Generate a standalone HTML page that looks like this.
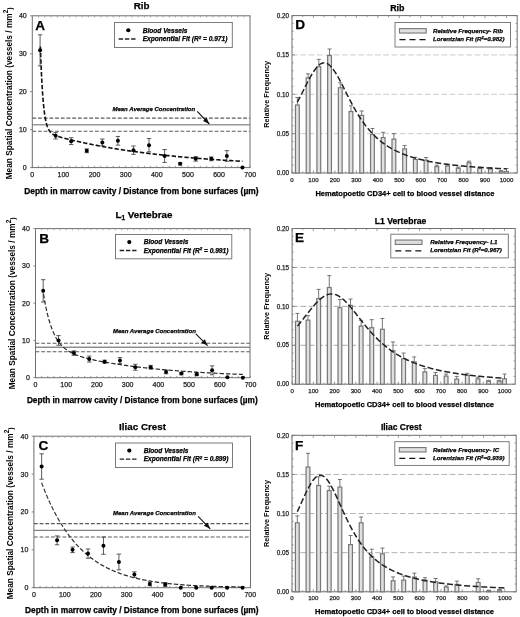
<!DOCTYPE html>
<html><head><meta charset="utf-8"><style>
html,body{margin:0;padding:0;background:#fff;}
body{width:520px;height:617px;overflow:hidden;}
svg{display:block;font-family:"Liberation Sans", sans-serif;filter:blur(0.35px);}
</style></head><body>
<svg width="520" height="617" viewBox="0 0 520 617">
<rect width="520" height="617" fill="#fff"/>
<line x1="32.3" y1="118.1" x2="250" y2="118.1" stroke="#5a5a5a" stroke-width="1.1" stroke-dasharray="3.8 1.9" />
<line x1="32.3" y1="124.8" x2="250" y2="124.8" stroke="#9a9a9a" stroke-width="1.6" />
<line x1="32.3" y1="131.3" x2="250" y2="131.3" stroke="#5a5a5a" stroke-width="1.1" stroke-dasharray="3.8 1.9" />
<rect x="32.3" y="15.8" width="217.7" height="151.8" fill="none" stroke="#6e6e6e" stroke-width="1.0"/>
<line x1="32.3" y1="167.6" x2="32.3" y2="165.8" stroke="#808080" stroke-width="0.8" />
<line x1="32.3" y1="15.8" x2="32.3" y2="17.6" stroke="#999" stroke-width="0.8" />
<line x1="38.53" y1="167.6" x2="38.53" y2="165.8" stroke="#808080" stroke-width="0.8" />
<line x1="38.53" y1="15.8" x2="38.53" y2="17.6" stroke="#999" stroke-width="0.8" />
<line x1="44.75" y1="167.6" x2="44.75" y2="165.8" stroke="#808080" stroke-width="0.8" />
<line x1="44.75" y1="15.8" x2="44.75" y2="17.6" stroke="#999" stroke-width="0.8" />
<line x1="50.98" y1="167.6" x2="50.98" y2="165.8" stroke="#808080" stroke-width="0.8" />
<line x1="50.98" y1="15.8" x2="50.98" y2="17.6" stroke="#999" stroke-width="0.8" />
<line x1="57.2" y1="167.6" x2="57.2" y2="165.8" stroke="#808080" stroke-width="0.8" />
<line x1="57.2" y1="15.8" x2="57.2" y2="17.6" stroke="#999" stroke-width="0.8" />
<line x1="63.43" y1="167.6" x2="63.43" y2="165.8" stroke="#808080" stroke-width="0.8" />
<line x1="63.43" y1="15.8" x2="63.43" y2="17.6" stroke="#999" stroke-width="0.8" />
<line x1="69.65" y1="167.6" x2="69.65" y2="165.8" stroke="#808080" stroke-width="0.8" />
<line x1="69.65" y1="15.8" x2="69.65" y2="17.6" stroke="#999" stroke-width="0.8" />
<line x1="75.88" y1="167.6" x2="75.88" y2="165.8" stroke="#808080" stroke-width="0.8" />
<line x1="75.88" y1="15.8" x2="75.88" y2="17.6" stroke="#999" stroke-width="0.8" />
<line x1="82.11" y1="167.6" x2="82.11" y2="165.8" stroke="#808080" stroke-width="0.8" />
<line x1="82.11" y1="15.8" x2="82.11" y2="17.6" stroke="#999" stroke-width="0.8" />
<line x1="88.33" y1="167.6" x2="88.33" y2="165.8" stroke="#808080" stroke-width="0.8" />
<line x1="88.33" y1="15.8" x2="88.33" y2="17.6" stroke="#999" stroke-width="0.8" />
<line x1="94.56" y1="167.6" x2="94.56" y2="165.8" stroke="#808080" stroke-width="0.8" />
<line x1="94.56" y1="15.8" x2="94.56" y2="17.6" stroke="#999" stroke-width="0.8" />
<line x1="100.78" y1="167.6" x2="100.78" y2="165.8" stroke="#808080" stroke-width="0.8" />
<line x1="100.78" y1="15.8" x2="100.78" y2="17.6" stroke="#999" stroke-width="0.8" />
<line x1="107.01" y1="167.6" x2="107.01" y2="165.8" stroke="#808080" stroke-width="0.8" />
<line x1="107.01" y1="15.8" x2="107.01" y2="17.6" stroke="#999" stroke-width="0.8" />
<line x1="113.23" y1="167.6" x2="113.23" y2="165.8" stroke="#808080" stroke-width="0.8" />
<line x1="113.23" y1="15.8" x2="113.23" y2="17.6" stroke="#999" stroke-width="0.8" />
<line x1="119.46" y1="167.6" x2="119.46" y2="165.8" stroke="#808080" stroke-width="0.8" />
<line x1="119.46" y1="15.8" x2="119.46" y2="17.6" stroke="#999" stroke-width="0.8" />
<line x1="125.69" y1="167.6" x2="125.69" y2="165.8" stroke="#808080" stroke-width="0.8" />
<line x1="125.69" y1="15.8" x2="125.69" y2="17.6" stroke="#999" stroke-width="0.8" />
<line x1="131.91" y1="167.6" x2="131.91" y2="165.8" stroke="#808080" stroke-width="0.8" />
<line x1="131.91" y1="15.8" x2="131.91" y2="17.6" stroke="#999" stroke-width="0.8" />
<line x1="138.14" y1="167.6" x2="138.14" y2="165.8" stroke="#808080" stroke-width="0.8" />
<line x1="138.14" y1="15.8" x2="138.14" y2="17.6" stroke="#999" stroke-width="0.8" />
<line x1="144.36" y1="167.6" x2="144.36" y2="165.8" stroke="#808080" stroke-width="0.8" />
<line x1="144.36" y1="15.8" x2="144.36" y2="17.6" stroke="#999" stroke-width="0.8" />
<line x1="150.59" y1="167.6" x2="150.59" y2="165.8" stroke="#808080" stroke-width="0.8" />
<line x1="150.59" y1="15.8" x2="150.59" y2="17.6" stroke="#999" stroke-width="0.8" />
<line x1="156.81" y1="167.6" x2="156.81" y2="165.8" stroke="#808080" stroke-width="0.8" />
<line x1="156.81" y1="15.8" x2="156.81" y2="17.6" stroke="#999" stroke-width="0.8" />
<line x1="163.04" y1="167.6" x2="163.04" y2="165.8" stroke="#808080" stroke-width="0.8" />
<line x1="163.04" y1="15.8" x2="163.04" y2="17.6" stroke="#999" stroke-width="0.8" />
<line x1="169.27" y1="167.6" x2="169.27" y2="165.8" stroke="#808080" stroke-width="0.8" />
<line x1="169.27" y1="15.8" x2="169.27" y2="17.6" stroke="#999" stroke-width="0.8" />
<line x1="175.49" y1="167.6" x2="175.49" y2="165.8" stroke="#808080" stroke-width="0.8" />
<line x1="175.49" y1="15.8" x2="175.49" y2="17.6" stroke="#999" stroke-width="0.8" />
<line x1="181.72" y1="167.6" x2="181.72" y2="165.8" stroke="#808080" stroke-width="0.8" />
<line x1="181.72" y1="15.8" x2="181.72" y2="17.6" stroke="#999" stroke-width="0.8" />
<line x1="187.94" y1="167.6" x2="187.94" y2="165.8" stroke="#808080" stroke-width="0.8" />
<line x1="187.94" y1="15.8" x2="187.94" y2="17.6" stroke="#999" stroke-width="0.8" />
<line x1="194.17" y1="167.6" x2="194.17" y2="165.8" stroke="#808080" stroke-width="0.8" />
<line x1="194.17" y1="15.8" x2="194.17" y2="17.6" stroke="#999" stroke-width="0.8" />
<line x1="200.39" y1="167.6" x2="200.39" y2="165.8" stroke="#808080" stroke-width="0.8" />
<line x1="200.39" y1="15.8" x2="200.39" y2="17.6" stroke="#999" stroke-width="0.8" />
<line x1="206.62" y1="167.6" x2="206.62" y2="165.8" stroke="#808080" stroke-width="0.8" />
<line x1="206.62" y1="15.8" x2="206.62" y2="17.6" stroke="#999" stroke-width="0.8" />
<line x1="212.85" y1="167.6" x2="212.85" y2="165.8" stroke="#808080" stroke-width="0.8" />
<line x1="212.85" y1="15.8" x2="212.85" y2="17.6" stroke="#999" stroke-width="0.8" />
<line x1="219.07" y1="167.6" x2="219.07" y2="165.8" stroke="#808080" stroke-width="0.8" />
<line x1="219.07" y1="15.8" x2="219.07" y2="17.6" stroke="#999" stroke-width="0.8" />
<line x1="225.3" y1="167.6" x2="225.3" y2="165.8" stroke="#808080" stroke-width="0.8" />
<line x1="225.3" y1="15.8" x2="225.3" y2="17.6" stroke="#999" stroke-width="0.8" />
<line x1="231.52" y1="167.6" x2="231.52" y2="165.8" stroke="#808080" stroke-width="0.8" />
<line x1="231.52" y1="15.8" x2="231.52" y2="17.6" stroke="#999" stroke-width="0.8" />
<line x1="237.75" y1="167.6" x2="237.75" y2="165.8" stroke="#808080" stroke-width="0.8" />
<line x1="237.75" y1="15.8" x2="237.75" y2="17.6" stroke="#999" stroke-width="0.8" />
<line x1="243.97" y1="167.6" x2="243.97" y2="165.8" stroke="#808080" stroke-width="0.8" />
<line x1="243.97" y1="15.8" x2="243.97" y2="17.6" stroke="#999" stroke-width="0.8" />
<line x1="250.2" y1="167.6" x2="250.2" y2="165.8" stroke="#808080" stroke-width="0.8" />
<line x1="250.2" y1="15.8" x2="250.2" y2="17.6" stroke="#999" stroke-width="0.8" />
<line x1="30.1" y1="167.6" x2="32.3" y2="167.6" stroke="#6e6e6e" stroke-width="0.8" />
<line x1="30.1" y1="129.65" x2="32.3" y2="129.65" stroke="#6e6e6e" stroke-width="0.8" />
<line x1="30.1" y1="91.7" x2="32.3" y2="91.7" stroke="#6e6e6e" stroke-width="0.8" />
<line x1="30.1" y1="53.75" x2="32.3" y2="53.75" stroke="#6e6e6e" stroke-width="0.8" />
<line x1="30.1" y1="15.8" x2="32.3" y2="15.8" stroke="#6e6e6e" stroke-width="0.8" />
<text x="26.7" y="170.1" font-size="7" font-weight="normal" font-style="normal" text-anchor="end" fill="#222" stroke="#222" stroke-width="0.25" >0</text>
<text x="26.7" y="132.15" font-size="7" font-weight="normal" font-style="normal" text-anchor="end" fill="#222" stroke="#222" stroke-width="0.25" >10</text>
<text x="26.7" y="94.2" font-size="7" font-weight="normal" font-style="normal" text-anchor="end" fill="#222" stroke="#222" stroke-width="0.25" >20</text>
<text x="26.7" y="56.25" font-size="7" font-weight="normal" font-style="normal" text-anchor="end" fill="#222" stroke="#222" stroke-width="0.25" >30</text>
<text x="26.7" y="18.3" font-size="7" font-weight="normal" font-style="normal" text-anchor="end" fill="#222" stroke="#222" stroke-width="0.25" >40</text>
<text x="32.3" y="177" font-size="7" font-weight="normal" font-style="normal" text-anchor="middle" fill="#222" stroke="#222" stroke-width="0.25" >0</text>
<text x="63.43" y="177" font-size="7" font-weight="normal" font-style="normal" text-anchor="middle" fill="#222" stroke="#222" stroke-width="0.25" >100</text>
<text x="94.56" y="177" font-size="7" font-weight="normal" font-style="normal" text-anchor="middle" fill="#222" stroke="#222" stroke-width="0.25" >200</text>
<text x="125.69" y="177" font-size="7" font-weight="normal" font-style="normal" text-anchor="middle" fill="#222" stroke="#222" stroke-width="0.25" >300</text>
<text x="156.81" y="177" font-size="7" font-weight="normal" font-style="normal" text-anchor="middle" fill="#222" stroke="#222" stroke-width="0.25" >400</text>
<text x="187.94" y="177" font-size="7" font-weight="normal" font-style="normal" text-anchor="middle" fill="#222" stroke="#222" stroke-width="0.25" >500</text>
<text x="219.07" y="177" font-size="7" font-weight="normal" font-style="normal" text-anchor="middle" fill="#222" stroke="#222" stroke-width="0.25" >600</text>
<text x="250.2" y="177" font-size="7" font-weight="normal" font-style="normal" text-anchor="middle" fill="#222" stroke="#222" stroke-width="0.25" >700</text>
<text x="141.6" y="8.7" font-size="9.8" font-weight="bold" font-style="normal" text-anchor="middle" fill="#000" stroke="#000" stroke-width="0.25" >Rib</text>
<text x="35.3" y="29.5" font-size="13.6" font-weight="bold" font-style="normal" text-anchor="start" fill="#000" stroke="#000" stroke-width="0.25" >A</text>
<text x="24.2" y="193.8" font-size="8.4" font-weight="bold" font-style="normal" text-anchor="start" fill="#000" stroke="#000" stroke-width="0.25" >Depth in marrow cavity / Distance from bone surfaces (µm)</text>
<text transform="translate(11.9,179.35) rotate(-90)" font-size="8.3" font-weight="bold" text-anchor="start">Mean Spatial Concentration (vessels / mm<tspan font-size="6.5" dy="-4.3">2</tspan><tspan font-size="7" dy="4.3">)</tspan></text>
<rect x="114.5" y="22.5" width="117.8" height="25" fill="#fff" stroke="#6e6e6e" stroke-width="0.9"/>
<circle cx="128.3" cy="30.25" r="2.1" fill="#000"/>
<line x1="118.7" y1="39" x2="135.5" y2="39" stroke="#222" stroke-width="1.4" stroke-dasharray="4.4 1.8" />
<text x="142.7" y="32.55" font-size="6.6" font-weight="bold" font-style="italic" text-anchor="start" fill="#000" stroke="#000" stroke-width="0.25" >Blood Vessels</text>
<text x="142.7" y="41.3" font-size="6.6" font-weight="bold" font-style="italic" text-anchor="start" fill="#000" stroke="#000" stroke-width="0.25" >Exponential Fit (R<tspan font-size="4.4" dy="-2.6">2</tspan><tspan dy="2.6"> = 0.971)</tspan></text>
<text x="112.4" y="110.5" font-size="6.0" font-weight="bold" font-style="italic" text-anchor="start" fill="#000" stroke="#000" stroke-width="0.25" >Mean Average Concentration</text>
<line x1="197.2" y1="111.3" x2="209.3" y2="124" stroke="#111" stroke-width="1.1" />
<polygon points="209.3,124 203.01,121.02 206.63,117.57" fill="#111"/>
<polyline points="40.39,46.5 40.55,51.14 40.7,55.53 40.86,59.69 41.02,63.63 41.17,67.36 41.33,70.88 41.48,74.22 41.64,77.39 41.79,80.38 41.95,83.21 42.11,85.9 42.26,88.44 42.42,90.84 42.57,93.12 42.73,95.28 42.88,97.32 43.04,99.26 43.19,101.09 43.35,102.83 43.51,104.48 43.66,106.04 43.82,107.51 43.97,108.92 44.13,110.24 44.28,111.5 44.44,112.69 44.6,113.82 44.75,114.89 44.91,115.91 45.06,116.87 45.22,117.79 45.37,118.66 45.53,119.48 45.69,120.26 45.84,121 46,121.7 46.15,122.37 46.31,123.01 46.46,123.61 46.62,124.18 46.77,124.73 46.93,125.24 47.09,125.73 47.24,126.2 47.4,126.64 47.55,127.07 47.71,127.47 47.86,127.85 48.02,128.22 48.18,128.56 48.33,128.9 48.49,129.21 48.64,129.51 48.8,129.8 48.95,130.07 49.11,130.33 49.27,130.58 49.42,130.82 49.58,131.05 49.73,131.27 49.89,131.48 50.04,131.68 50.2,131.87 50.35,132.05 50.51,132.23 50.67,132.4 50.82,132.56 50.98,132.71 51.13,132.86 51.29,133.01 51.44,133.14 51.6,133.28 51.76,133.4 51.91,133.53 52.07,133.65 52.22,133.76 52.38,133.87 52.53,133.98 52.69,134.09 52.84,134.19 53,134.28 53.16,134.38 53.31,134.47 53.47,134.56 53.62,134.64 53.78,134.73 53.93,134.81 54.09,134.89 54.25,134.97 54.4,135.04 54.56,135.12 54.71,135.19 54.87,135.26 55.02,135.33 55.18,135.4 55.34,135.46 55.49,135.53 55.65,135.59 55.8,135.65 55.96,135.72 56.11,135.78 56.27,135.83 56.42,135.89 56.58,135.95 56.74,136.01 56.89,136.06 57.05,136.12 57.2,136.17 57.36,136.22 57.51,136.28 57.67,136.33 57.83,136.38 57.98,136.43 58.14,136.48 58.29,136.53 58.45,136.58 58.6,136.63 58.76,136.68 58.91,136.73 59.07,136.77 59.23,136.82 59.38,136.87 59.54,136.91 59.69,136.96 59.85,137 60,137.05 60.16,137.1 60.32,137.14 60.47,137.18 60.63,137.23 60.78,137.27 60.94,137.32 61.09,137.36 61.25,137.4 61.41,137.45 61.56,137.49 61.72,137.53 61.87,137.58 62.03,137.62 62.18,137.66 62.34,137.7 62.49,137.74 62.65,137.79 62.81,137.83 62.96,137.87 63.12,137.91 63.27,137.95 63.43,137.99 63.58,138.03 63.74,138.07 63.9,138.12 64.05,138.16 64.21,138.2 64.36,138.24 64.52,138.28 64.67,138.32 64.83,138.36 64.98,138.4 65.14,138.44 65.3,138.48 65.45,138.52 65.61,138.56 65.76,138.6 65.92,138.64 66.07,138.67 66.23,138.71 66.39,138.75 66.54,138.79 66.7,138.83 66.85,138.87 67.01,138.91 67.16,138.95 67.32,138.99 67.48,139.03 67.63,139.06 67.79,139.1 67.94,139.14 68.1,139.18 68.25,139.22 68.41,139.26 68.56,139.3 68.72,139.33 68.88,139.37 69.03,139.41 69.19,139.45 69.34,139.49 69.5,139.52 69.65,139.56 70.59,139.79 71.52,140.01 72.46,140.23 73.39,140.45 74.32,140.67 75.26,140.89 76.19,141.1 77.13,141.32 78.06,141.53 78.99,141.74 79.93,141.94 80.86,142.15 81.79,142.35 82.73,142.56 83.66,142.76 84.6,142.96 85.53,143.16 86.46,143.35 87.4,143.55 88.33,143.74 89.27,143.93 90.2,144.12 91.13,144.31 92.07,144.5 93,144.68 93.93,144.87 94.87,145.05 95.8,145.23 96.74,145.41 97.67,145.59 98.6,145.77 99.54,145.94 100.47,146.11 101.41,146.29 102.34,146.46 103.27,146.63 104.21,146.8 105.14,146.96 106.07,147.13 107.01,147.29 107.94,147.46 108.88,147.62 109.81,147.78 110.74,147.94 111.68,148.1 112.61,148.25 113.55,148.41 114.48,148.56 115.41,148.72 116.35,148.87 117.28,149.02 118.21,149.17 119.15,149.32 120.08,149.46 121.02,149.61 121.95,149.75 122.88,149.9 123.82,150.04 124.75,150.18 125.69,150.32 126.62,150.46 127.55,150.6 128.49,150.73 129.42,150.87 130.36,151 131.29,151.14 132.22,151.27 133.16,151.4 134.09,151.53 135.02,151.66 135.96,151.79 136.89,151.91 137.83,152.04 138.76,152.16 139.69,152.29 140.63,152.41 141.56,152.53 142.5,152.65 143.43,152.77 144.36,152.89 145.3,153.01 146.23,153.13 147.16,153.24 148.1,153.36 149.03,153.47 149.97,153.59 150.9,153.7 151.83,153.81 152.77,153.92 153.7,154.03 154.64,154.14 155.57,154.25 156.5,154.36 157.44,154.46 158.37,154.57 159.3,154.67 160.24,154.78 161.17,154.88 162.11,154.98 163.04,155.08 163.97,155.18 164.91,155.28 165.84,155.38 166.78,155.48 167.71,155.58 168.64,155.67 169.58,155.77 170.51,155.87 171.44,155.96 172.38,156.05 173.31,156.15 174.25,156.24 175.18,156.33 176.11,156.42 177.05,156.51 177.98,156.6 178.92,156.69 179.85,156.77 180.78,156.86 181.72,156.95 182.65,157.03 183.58,157.12 184.52,157.2 185.45,157.29 186.39,157.37 187.32,157.45 188.25,157.53 189.19,157.61 190.12,157.69 191.06,157.77 191.99,157.85 192.92,157.93 193.86,158.01 194.79,158.09 195.72,158.16 196.66,158.24 197.59,158.31 198.53,158.39 199.46,158.46 200.39,158.53 201.33,158.61 202.26,158.68 203.2,158.75 204.13,158.82 205.06,158.89 206,158.96 206.93,159.03 207.87,159.1 208.8,159.17 209.73,159.24 210.67,159.3 211.6,159.37 212.53,159.44 213.47,159.5 214.4,159.57 215.34,159.63 216.27,159.7 217.2,159.76 218.14,159.82 219.07,159.88 220.01,159.95 220.94,160.01 221.87,160.07 222.81,160.13 223.74,160.19 224.67,160.25 225.61,160.31 226.54,160.37 227.48,160.43 228.41,160.48 229.34,160.54 230.28,160.6 231.21,160.65 232.15,160.71 233.08,160.76 234.01,160.82 234.95,160.87 235.88,160.93 236.81,160.98 237.75,161.03 238.68,161.09 239.62,161.14 240.55,161.19 241.48,161.24 242.42,161.29" fill="none" stroke="#111" stroke-width="1.6" stroke-dasharray="4.4 2.0"/>
<line x1="40.08" y1="34.78" x2="40.08" y2="65.89" stroke="#333" stroke-width="0.8" />
<line x1="37.88" y1="34.78" x2="42.28" y2="34.78" stroke="#333" stroke-width="0.8" />
<line x1="37.88" y1="65.89" x2="42.28" y2="65.89" stroke="#333" stroke-width="0.8" />
<circle cx="40.08" cy="50.33" r="2.0" fill="#000"/>
<line x1="55.65" y1="132.57" x2="55.65" y2="139.02" stroke="#333" stroke-width="0.8" />
<line x1="53.45" y1="132.57" x2="57.85" y2="132.57" stroke="#333" stroke-width="0.8" />
<line x1="53.45" y1="139.02" x2="57.85" y2="139.02" stroke="#333" stroke-width="0.8" />
<circle cx="55.65" cy="135.8" r="2.0" fill="#000"/>
<line x1="71.21" y1="137.73" x2="71.21" y2="144.56" stroke="#333" stroke-width="0.8" />
<line x1="69.01" y1="137.73" x2="73.41" y2="137.73" stroke="#333" stroke-width="0.8" />
<line x1="69.01" y1="144.56" x2="73.41" y2="144.56" stroke="#333" stroke-width="0.8" />
<circle cx="71.21" cy="141.15" r="2.0" fill="#000"/>
<line x1="86.77" y1="148.89" x2="86.77" y2="152.69" stroke="#333" stroke-width="0.8" />
<line x1="84.57" y1="148.89" x2="88.97" y2="148.89" stroke="#333" stroke-width="0.8" />
<line x1="84.57" y1="152.69" x2="88.97" y2="152.69" stroke="#333" stroke-width="0.8" />
<circle cx="86.77" cy="150.79" r="2.0" fill="#000"/>
<line x1="102.34" y1="138.99" x2="102.34" y2="145.82" stroke="#333" stroke-width="0.8" />
<line x1="100.14" y1="138.99" x2="104.54" y2="138.99" stroke="#333" stroke-width="0.8" />
<line x1="100.14" y1="145.82" x2="104.54" y2="145.82" stroke="#333" stroke-width="0.8" />
<circle cx="102.34" cy="142.4" r="2.0" fill="#000"/>
<line x1="117.9" y1="136.44" x2="117.9" y2="145.17" stroke="#333" stroke-width="0.8" />
<line x1="115.7" y1="136.44" x2="120.1" y2="136.44" stroke="#333" stroke-width="0.8" />
<line x1="115.7" y1="145.17" x2="120.1" y2="145.17" stroke="#333" stroke-width="0.8" />
<circle cx="117.9" cy="140.81" r="2.0" fill="#000"/>
<line x1="133.47" y1="145.97" x2="133.47" y2="154.32" stroke="#333" stroke-width="0.8" />
<line x1="131.27" y1="145.97" x2="135.67" y2="145.97" stroke="#333" stroke-width="0.8" />
<line x1="131.27" y1="154.32" x2="135.67" y2="154.32" stroke="#333" stroke-width="0.8" />
<circle cx="133.47" cy="150.14" r="2.0" fill="#000"/>
<line x1="149.03" y1="138.57" x2="149.03" y2="151.85" stroke="#333" stroke-width="0.8" />
<line x1="146.83" y1="138.57" x2="151.23" y2="138.57" stroke="#333" stroke-width="0.8" />
<line x1="146.83" y1="151.85" x2="151.23" y2="151.85" stroke="#333" stroke-width="0.8" />
<circle cx="149.03" cy="145.21" r="2.0" fill="#000"/>
<line x1="164.6" y1="149.54" x2="164.6" y2="162.44" stroke="#333" stroke-width="0.8" />
<line x1="162.4" y1="149.54" x2="166.8" y2="149.54" stroke="#333" stroke-width="0.8" />
<line x1="162.4" y1="162.44" x2="166.8" y2="162.44" stroke="#333" stroke-width="0.8" />
<circle cx="164.6" cy="155.99" r="2.0" fill="#000"/>
<line x1="180.16" y1="162.67" x2="180.16" y2="164.94" stroke="#333" stroke-width="0.8" />
<line x1="177.96" y1="162.67" x2="182.36" y2="162.67" stroke="#333" stroke-width="0.8" />
<line x1="177.96" y1="164.94" x2="182.36" y2="164.94" stroke="#333" stroke-width="0.8" />
<circle cx="180.16" cy="163.81" r="2.0" fill="#000"/>
<line x1="195.72" y1="156.59" x2="195.72" y2="161.15" stroke="#333" stroke-width="0.8" />
<line x1="193.52" y1="156.59" x2="197.92" y2="156.59" stroke="#333" stroke-width="0.8" />
<line x1="193.52" y1="161.15" x2="197.92" y2="161.15" stroke="#333" stroke-width="0.8" />
<circle cx="195.72" cy="158.87" r="2.0" fill="#000"/>
<line x1="211.29" y1="156.97" x2="211.29" y2="160.77" stroke="#333" stroke-width="0.8" />
<line x1="209.09" y1="156.97" x2="213.49" y2="156.97" stroke="#333" stroke-width="0.8" />
<line x1="209.09" y1="160.77" x2="213.49" y2="160.77" stroke="#333" stroke-width="0.8" />
<circle cx="211.29" cy="158.87" r="2.0" fill="#000"/>
<line x1="226.85" y1="150.67" x2="226.85" y2="161.3" stroke="#333" stroke-width="0.8" />
<line x1="224.65" y1="150.67" x2="229.05" y2="150.67" stroke="#333" stroke-width="0.8" />
<line x1="224.65" y1="161.3" x2="229.05" y2="161.3" stroke="#333" stroke-width="0.8" />
<circle cx="226.85" cy="155.99" r="2.0" fill="#000"/>
<circle cx="242.42" cy="167.6" r="2.0" fill="#000"/>
<line x1="35.5" y1="343.2" x2="250" y2="343.2" stroke="#5a5a5a" stroke-width="1.1" stroke-dasharray="3.8 1.9" />
<line x1="35.5" y1="347.2" x2="250" y2="347.2" stroke="#585858" stroke-width="1.0" />
<line x1="35.5" y1="351.7" x2="250" y2="351.7" stroke="#5a5a5a" stroke-width="1.1" stroke-dasharray="3.8 1.9" />
<rect x="35.5" y="228.6" width="214.5" height="149.1" fill="none" stroke="#6e6e6e" stroke-width="1.0"/>
<line x1="35.5" y1="377.7" x2="35.5" y2="375.9" stroke="#808080" stroke-width="0.8" />
<line x1="35.5" y1="228.6" x2="35.5" y2="230.4" stroke="#999" stroke-width="0.8" />
<line x1="41.64" y1="377.7" x2="41.64" y2="375.9" stroke="#808080" stroke-width="0.8" />
<line x1="41.64" y1="228.6" x2="41.64" y2="230.4" stroke="#999" stroke-width="0.8" />
<line x1="47.79" y1="377.7" x2="47.79" y2="375.9" stroke="#808080" stroke-width="0.8" />
<line x1="47.79" y1="228.6" x2="47.79" y2="230.4" stroke="#999" stroke-width="0.8" />
<line x1="53.93" y1="377.7" x2="53.93" y2="375.9" stroke="#808080" stroke-width="0.8" />
<line x1="53.93" y1="228.6" x2="53.93" y2="230.4" stroke="#999" stroke-width="0.8" />
<line x1="60.07" y1="377.7" x2="60.07" y2="375.9" stroke="#808080" stroke-width="0.8" />
<line x1="60.07" y1="228.6" x2="60.07" y2="230.4" stroke="#999" stroke-width="0.8" />
<line x1="66.21" y1="377.7" x2="66.21" y2="375.9" stroke="#808080" stroke-width="0.8" />
<line x1="66.21" y1="228.6" x2="66.21" y2="230.4" stroke="#999" stroke-width="0.8" />
<line x1="72.36" y1="377.7" x2="72.36" y2="375.9" stroke="#808080" stroke-width="0.8" />
<line x1="72.36" y1="228.6" x2="72.36" y2="230.4" stroke="#999" stroke-width="0.8" />
<line x1="78.5" y1="377.7" x2="78.5" y2="375.9" stroke="#808080" stroke-width="0.8" />
<line x1="78.5" y1="228.6" x2="78.5" y2="230.4" stroke="#999" stroke-width="0.8" />
<line x1="84.64" y1="377.7" x2="84.64" y2="375.9" stroke="#808080" stroke-width="0.8" />
<line x1="84.64" y1="228.6" x2="84.64" y2="230.4" stroke="#999" stroke-width="0.8" />
<line x1="90.79" y1="377.7" x2="90.79" y2="375.9" stroke="#808080" stroke-width="0.8" />
<line x1="90.79" y1="228.6" x2="90.79" y2="230.4" stroke="#999" stroke-width="0.8" />
<line x1="96.93" y1="377.7" x2="96.93" y2="375.9" stroke="#808080" stroke-width="0.8" />
<line x1="96.93" y1="228.6" x2="96.93" y2="230.4" stroke="#999" stroke-width="0.8" />
<line x1="103.07" y1="377.7" x2="103.07" y2="375.9" stroke="#808080" stroke-width="0.8" />
<line x1="103.07" y1="228.6" x2="103.07" y2="230.4" stroke="#999" stroke-width="0.8" />
<line x1="109.21" y1="377.7" x2="109.21" y2="375.9" stroke="#808080" stroke-width="0.8" />
<line x1="109.21" y1="228.6" x2="109.21" y2="230.4" stroke="#999" stroke-width="0.8" />
<line x1="115.36" y1="377.7" x2="115.36" y2="375.9" stroke="#808080" stroke-width="0.8" />
<line x1="115.36" y1="228.6" x2="115.36" y2="230.4" stroke="#999" stroke-width="0.8" />
<line x1="121.5" y1="377.7" x2="121.5" y2="375.9" stroke="#808080" stroke-width="0.8" />
<line x1="121.5" y1="228.6" x2="121.5" y2="230.4" stroke="#999" stroke-width="0.8" />
<line x1="127.64" y1="377.7" x2="127.64" y2="375.9" stroke="#808080" stroke-width="0.8" />
<line x1="127.64" y1="228.6" x2="127.64" y2="230.4" stroke="#999" stroke-width="0.8" />
<line x1="133.79" y1="377.7" x2="133.79" y2="375.9" stroke="#808080" stroke-width="0.8" />
<line x1="133.79" y1="228.6" x2="133.79" y2="230.4" stroke="#999" stroke-width="0.8" />
<line x1="139.93" y1="377.7" x2="139.93" y2="375.9" stroke="#808080" stroke-width="0.8" />
<line x1="139.93" y1="228.6" x2="139.93" y2="230.4" stroke="#999" stroke-width="0.8" />
<line x1="146.07" y1="377.7" x2="146.07" y2="375.9" stroke="#808080" stroke-width="0.8" />
<line x1="146.07" y1="228.6" x2="146.07" y2="230.4" stroke="#999" stroke-width="0.8" />
<line x1="152.21" y1="377.7" x2="152.21" y2="375.9" stroke="#808080" stroke-width="0.8" />
<line x1="152.21" y1="228.6" x2="152.21" y2="230.4" stroke="#999" stroke-width="0.8" />
<line x1="158.36" y1="377.7" x2="158.36" y2="375.9" stroke="#808080" stroke-width="0.8" />
<line x1="158.36" y1="228.6" x2="158.36" y2="230.4" stroke="#999" stroke-width="0.8" />
<line x1="164.5" y1="377.7" x2="164.5" y2="375.9" stroke="#808080" stroke-width="0.8" />
<line x1="164.5" y1="228.6" x2="164.5" y2="230.4" stroke="#999" stroke-width="0.8" />
<line x1="170.64" y1="377.7" x2="170.64" y2="375.9" stroke="#808080" stroke-width="0.8" />
<line x1="170.64" y1="228.6" x2="170.64" y2="230.4" stroke="#999" stroke-width="0.8" />
<line x1="176.79" y1="377.7" x2="176.79" y2="375.9" stroke="#808080" stroke-width="0.8" />
<line x1="176.79" y1="228.6" x2="176.79" y2="230.4" stroke="#999" stroke-width="0.8" />
<line x1="182.93" y1="377.7" x2="182.93" y2="375.9" stroke="#808080" stroke-width="0.8" />
<line x1="182.93" y1="228.6" x2="182.93" y2="230.4" stroke="#999" stroke-width="0.8" />
<line x1="189.07" y1="377.7" x2="189.07" y2="375.9" stroke="#808080" stroke-width="0.8" />
<line x1="189.07" y1="228.6" x2="189.07" y2="230.4" stroke="#999" stroke-width="0.8" />
<line x1="195.21" y1="377.7" x2="195.21" y2="375.9" stroke="#808080" stroke-width="0.8" />
<line x1="195.21" y1="228.6" x2="195.21" y2="230.4" stroke="#999" stroke-width="0.8" />
<line x1="201.36" y1="377.7" x2="201.36" y2="375.9" stroke="#808080" stroke-width="0.8" />
<line x1="201.36" y1="228.6" x2="201.36" y2="230.4" stroke="#999" stroke-width="0.8" />
<line x1="207.5" y1="377.7" x2="207.5" y2="375.9" stroke="#808080" stroke-width="0.8" />
<line x1="207.5" y1="228.6" x2="207.5" y2="230.4" stroke="#999" stroke-width="0.8" />
<line x1="213.64" y1="377.7" x2="213.64" y2="375.9" stroke="#808080" stroke-width="0.8" />
<line x1="213.64" y1="228.6" x2="213.64" y2="230.4" stroke="#999" stroke-width="0.8" />
<line x1="219.79" y1="377.7" x2="219.79" y2="375.9" stroke="#808080" stroke-width="0.8" />
<line x1="219.79" y1="228.6" x2="219.79" y2="230.4" stroke="#999" stroke-width="0.8" />
<line x1="225.93" y1="377.7" x2="225.93" y2="375.9" stroke="#808080" stroke-width="0.8" />
<line x1="225.93" y1="228.6" x2="225.93" y2="230.4" stroke="#999" stroke-width="0.8" />
<line x1="232.07" y1="377.7" x2="232.07" y2="375.9" stroke="#808080" stroke-width="0.8" />
<line x1="232.07" y1="228.6" x2="232.07" y2="230.4" stroke="#999" stroke-width="0.8" />
<line x1="238.21" y1="377.7" x2="238.21" y2="375.9" stroke="#808080" stroke-width="0.8" />
<line x1="238.21" y1="228.6" x2="238.21" y2="230.4" stroke="#999" stroke-width="0.8" />
<line x1="244.36" y1="377.7" x2="244.36" y2="375.9" stroke="#808080" stroke-width="0.8" />
<line x1="244.36" y1="228.6" x2="244.36" y2="230.4" stroke="#999" stroke-width="0.8" />
<line x1="250.5" y1="377.7" x2="250.5" y2="375.9" stroke="#808080" stroke-width="0.8" />
<line x1="250.5" y1="228.6" x2="250.5" y2="230.4" stroke="#999" stroke-width="0.8" />
<line x1="33.3" y1="377.7" x2="35.5" y2="377.7" stroke="#6e6e6e" stroke-width="0.8" />
<line x1="33.3" y1="340.43" x2="35.5" y2="340.43" stroke="#6e6e6e" stroke-width="0.8" />
<line x1="33.3" y1="303.15" x2="35.5" y2="303.15" stroke="#6e6e6e" stroke-width="0.8" />
<line x1="33.3" y1="265.88" x2="35.5" y2="265.88" stroke="#6e6e6e" stroke-width="0.8" />
<line x1="33.3" y1="228.6" x2="35.5" y2="228.6" stroke="#6e6e6e" stroke-width="0.8" />
<text x="29.9" y="380.2" font-size="7" font-weight="normal" font-style="normal" text-anchor="end" fill="#222" stroke="#222" stroke-width="0.25" >0</text>
<text x="29.9" y="342.93" font-size="7" font-weight="normal" font-style="normal" text-anchor="end" fill="#222" stroke="#222" stroke-width="0.25" >10</text>
<text x="29.9" y="305.65" font-size="7" font-weight="normal" font-style="normal" text-anchor="end" fill="#222" stroke="#222" stroke-width="0.25" >20</text>
<text x="29.9" y="268.38" font-size="7" font-weight="normal" font-style="normal" text-anchor="end" fill="#222" stroke="#222" stroke-width="0.25" >30</text>
<text x="29.9" y="231.1" font-size="7" font-weight="normal" font-style="normal" text-anchor="end" fill="#222" stroke="#222" stroke-width="0.25" >40</text>
<text x="35.5" y="387.3" font-size="7" font-weight="normal" font-style="normal" text-anchor="middle" fill="#222" stroke="#222" stroke-width="0.25" >0</text>
<text x="66.21" y="387.3" font-size="7" font-weight="normal" font-style="normal" text-anchor="middle" fill="#222" stroke="#222" stroke-width="0.25" >100</text>
<text x="96.93" y="387.3" font-size="7" font-weight="normal" font-style="normal" text-anchor="middle" fill="#222" stroke="#222" stroke-width="0.25" >200</text>
<text x="127.64" y="387.3" font-size="7" font-weight="normal" font-style="normal" text-anchor="middle" fill="#222" stroke="#222" stroke-width="0.25" >300</text>
<text x="158.36" y="387.3" font-size="7" font-weight="normal" font-style="normal" text-anchor="middle" fill="#222" stroke="#222" stroke-width="0.25" >400</text>
<text x="189.07" y="387.3" font-size="7" font-weight="normal" font-style="normal" text-anchor="middle" fill="#222" stroke="#222" stroke-width="0.25" >500</text>
<text x="219.79" y="387.3" font-size="7" font-weight="normal" font-style="normal" text-anchor="middle" fill="#222" stroke="#222" stroke-width="0.25" >600</text>
<text x="250.5" y="387.3" font-size="7" font-weight="normal" font-style="normal" text-anchor="middle" fill="#222" stroke="#222" stroke-width="0.25" >700</text>
<text x="115.4" y="218.3" font-size="9.8" font-weight="bold" font-style="normal" text-anchor="start" fill="#000" stroke="#000" stroke-width="0.25" >L<tspan font-size="6.5" dy="2">1</tspan><tspan dy="-2"> Vertebrae</tspan></text>
<text x="39.2" y="242.5" font-size="13.6" font-weight="bold" font-style="normal" text-anchor="start" fill="#000" stroke="#000" stroke-width="0.25" >B</text>
<text x="26.9" y="402.7" font-size="8.26" font-weight="bold" font-style="normal" text-anchor="start" fill="#000" stroke="#000" stroke-width="0.25" >Depth in marrow cavity / Distance from bone surfaces (µm)</text>
<text transform="translate(14.9,389.35) rotate(-90)" font-size="8.3" font-weight="bold" text-anchor="start">Mean Spatial Concentration (vessels / mm<tspan font-size="6.5" dy="-4.3">2</tspan><tspan font-size="7" dy="4.3">)</tspan></text>
<rect x="115.5" y="234.5" width="116.3" height="24.3" fill="#fff" stroke="#6e6e6e" stroke-width="0.9"/>
<circle cx="129.3" cy="242.03" r="2.1" fill="#000"/>
<line x1="119.7" y1="250.54" x2="136.5" y2="250.54" stroke="#222" stroke-width="1.4" stroke-dasharray="4.4 1.8" />
<text x="143.7" y="244.33" font-size="6.6" font-weight="bold" font-style="italic" text-anchor="start" fill="#000" stroke="#000" stroke-width="0.25" >Blood Vessels</text>
<text x="143.7" y="252.84" font-size="6.6" font-weight="bold" font-style="italic" text-anchor="start" fill="#000" stroke="#000" stroke-width="0.25" >Exponential Fit (R<tspan font-size="4.4" dy="-2.6">2</tspan><tspan dy="2.6"> = 0.991)</tspan></text>
<text x="113" y="333" font-size="6.0" font-weight="bold" font-style="italic" text-anchor="start" fill="#000" stroke="#000" stroke-width="0.25" >Mean Average Concentration</text>
<line x1="195.8" y1="333.8" x2="207.6" y2="345.6" stroke="#111" stroke-width="1.1" />
<polygon points="207.6,345.6 201.24,342.77 204.77,339.24" fill="#111"/>
<polyline points="43.49,294.05 43.64,294.99 43.79,295.91 43.95,296.82 44.1,297.71 44.25,298.59 44.41,299.46 44.56,300.31 44.71,301.15 44.87,301.97 45.02,302.79 45.17,303.59 45.33,304.37 45.48,305.15 45.64,305.91 45.79,306.66 45.94,307.4 46.1,308.12 46.25,308.84 46.4,309.54 46.56,310.24 46.71,310.92 46.86,311.59 47.02,312.25 47.17,312.9 47.33,313.54 47.48,314.17 47.63,314.79 47.79,315.41 47.94,316.01 48.09,316.6 48.25,317.18 48.4,317.76 48.55,318.32 48.71,318.88 48.86,319.43 49.01,319.97 49.17,320.5 49.32,321.02 49.48,321.54 49.63,322.04 49.78,322.54 49.94,323.04 50.09,323.52 50.24,324 50.4,324.47 50.55,324.93 50.7,325.39 50.86,325.84 51.01,326.28 51.16,326.71 51.32,327.14 51.47,327.56 51.62,327.98 51.78,328.39 51.93,328.79 52.09,329.19 52.24,329.58 52.39,329.97 52.55,330.35 52.7,330.72 52.85,331.09 53.01,331.46 53.16,331.81 53.31,332.17 53.47,332.51 53.62,332.86 53.77,333.19 53.93,333.53 54.08,333.86 54.24,334.18 54.39,334.5 54.54,334.81 54.7,335.12 54.85,335.42 55,335.72 55.16,336.02 55.31,336.31 55.46,336.6 55.62,336.88 55.77,337.16 55.92,337.44 56.08,337.71 56.23,337.98 56.39,338.24 56.54,338.5 56.69,338.76 56.85,339.01 57,339.26 57.15,339.5 57.31,339.75 57.46,339.98 57.61,340.22 57.77,340.45 57.92,340.68 58.08,340.91 58.23,341.13 58.38,341.35 58.54,341.57 58.69,341.78 58.84,341.99 59,342.2 59.15,342.4 59.3,342.61 59.46,342.81 59.61,343 59.76,343.2 59.92,343.39 60.07,343.58 60.23,343.77 60.38,343.95 60.53,344.13 60.69,344.31 60.84,344.49 60.99,344.66 61.15,344.84 61.3,345.01 61.45,345.18 61.61,345.34 61.76,345.51 61.91,345.67 62.07,345.83 62.22,345.98 62.38,346.14 62.53,346.29 62.68,346.45 62.84,346.6 62.99,346.74 63.14,346.89 63.3,347.03 63.45,347.18 63.6,347.32 63.76,347.46 63.91,347.59 64.06,347.73 64.22,347.86 64.37,348 64.53,348.13 64.68,348.26 64.83,348.38 64.99,348.51 65.14,348.64 65.29,348.76 65.45,348.88 65.6,349 65.75,349.12 65.91,349.24 66.06,349.36 66.21,349.47 66.37,349.58 66.52,349.7 66.67,349.81 66.83,349.92 66.98,350.03 67.14,350.13 67.29,350.24 67.44,350.35 67.6,350.45 67.75,350.55 67.9,350.65 68.06,350.75 68.21,350.85 68.36,350.95 68.52,351.05 68.67,351.15 68.83,351.24 68.98,351.34 69.13,351.43 69.29,351.52 69.44,351.61 69.59,351.7 69.75,351.79 69.9,351.88 70.05,351.97 70.21,352.06 70.36,352.14 70.51,352.23 70.67,352.31 70.82,352.4 70.97,352.48 71.13,352.56 71.28,352.64 71.44,352.72 71.59,352.8 71.74,352.88 71.9,352.96 72.05,353.04 72.2,353.12 72.36,353.19 73.28,353.63 74.2,354.05 75.12,354.45 76.04,354.83 76.96,355.19 77.89,355.54 78.81,355.87 79.73,356.19 80.65,356.49 81.57,356.79 82.49,357.07 83.41,357.35 84.34,357.61 85.26,357.87 86.18,358.12 87.1,358.36 88.02,358.6 88.94,358.83 89.86,359.06 90.79,359.28 91.71,359.49 92.63,359.7 93.55,359.91 94.47,360.11 95.39,360.3 96.31,360.5 97.24,360.69 98.16,360.88 99.08,361.06 100,361.24 100.92,361.42 101.84,361.6 102.76,361.77 103.69,361.94 104.61,362.11 105.53,362.27 106.45,362.44 107.37,362.6 108.29,362.76 109.21,362.92 110.14,363.07 111.06,363.23 111.98,363.38 112.9,363.53 113.82,363.68 114.74,363.82 115.66,363.97 116.59,364.11 117.51,364.25 118.43,364.39 119.35,364.53 120.27,364.66 121.19,364.8 122.11,364.93 123.04,365.07 123.96,365.2 124.88,365.33 125.8,365.45 126.72,365.58 127.64,365.71 128.56,365.83 129.49,365.95 130.41,366.07 131.33,366.19 132.25,366.31 133.17,366.43 134.09,366.55 135.01,366.66 135.94,366.77 136.86,366.89 137.78,367 138.7,367.11 139.62,367.22 140.54,367.33 141.46,367.43 142.39,367.54 143.31,367.64 144.23,367.75 145.15,367.85 146.07,367.95 146.99,368.05 147.91,368.15 148.84,368.25 149.76,368.35 150.68,368.44 151.6,368.54 152.52,368.63 153.44,368.73 154.36,368.82 155.29,368.91 156.21,369 157.13,369.09 158.05,369.18 158.97,369.27 159.89,369.35 160.81,369.44 161.74,369.52 162.66,369.61 163.58,369.69 164.5,369.77 165.42,369.85 166.34,369.94 167.26,370.02 168.19,370.09 169.11,370.17 170.03,370.25 170.95,370.33 171.87,370.4 172.79,370.48 173.71,370.55 174.64,370.63 175.56,370.7 176.48,370.77 177.4,370.84 178.32,370.91 179.24,370.98 180.16,371.05 181.09,371.12 182.01,371.19 182.93,371.25 183.85,371.32 184.77,371.39 185.69,371.45 186.61,371.52 187.54,371.58 188.46,371.64 189.38,371.71 190.3,371.77 191.22,371.83 192.14,371.89 193.06,371.95 193.99,372.01 194.91,372.07 195.83,372.12 196.75,372.18 197.67,372.24 198.59,372.29 199.51,372.35 200.44,372.4 201.36,372.46 202.28,372.51 203.2,372.57 204.12,372.62 205.04,372.67 205.96,372.72 206.89,372.77 207.81,372.83 208.73,372.88 209.65,372.93 210.57,372.97 211.49,373.02 212.41,373.07 213.34,373.12 214.26,373.17 215.18,373.21 216.1,373.26 217.02,373.3 217.94,373.35 218.86,373.39 219.79,373.44 220.71,373.48 221.63,373.53 222.55,373.57 223.47,373.61 224.39,373.65 225.31,373.7 226.24,373.74 227.16,373.78 228.08,373.82 229,373.86 229.92,373.9 230.84,373.94 231.76,373.98 232.69,374.01 233.61,374.05 234.53,374.09 235.45,374.13 236.37,374.16 237.29,374.2 238.21,374.24 239.14,374.27 240.06,374.31 240.98,374.34 241.9,374.38 242.82,374.41" fill="none" stroke="#2a2a2a" stroke-width="1.2" stroke-dasharray="4.4 2.0"/>
<line x1="43.18" y1="279.67" x2="43.18" y2="302.03" stroke="#333" stroke-width="0.8" />
<line x1="40.98" y1="279.67" x2="45.38" y2="279.67" stroke="#333" stroke-width="0.8" />
<line x1="40.98" y1="302.03" x2="45.38" y2="302.03" stroke="#333" stroke-width="0.8" />
<circle cx="43.18" cy="290.85" r="2.0" fill="#000"/>
<line x1="58.54" y1="335.58" x2="58.54" y2="345.27" stroke="#333" stroke-width="0.8" />
<line x1="56.34" y1="335.58" x2="60.74" y2="335.58" stroke="#333" stroke-width="0.8" />
<line x1="56.34" y1="345.27" x2="60.74" y2="345.27" stroke="#333" stroke-width="0.8" />
<circle cx="58.54" cy="340.43" r="2.0" fill="#000"/>
<line x1="73.89" y1="350.86" x2="73.89" y2="355.33" stroke="#333" stroke-width="0.8" />
<line x1="71.69" y1="350.86" x2="76.09" y2="350.86" stroke="#333" stroke-width="0.8" />
<line x1="71.69" y1="355.33" x2="76.09" y2="355.33" stroke="#333" stroke-width="0.8" />
<circle cx="73.89" cy="353.1" r="2.0" fill="#000"/>
<line x1="89.25" y1="356.08" x2="89.25" y2="362.04" stroke="#333" stroke-width="0.8" />
<line x1="87.05" y1="356.08" x2="91.45" y2="356.08" stroke="#333" stroke-width="0.8" />
<line x1="87.05" y1="362.04" x2="91.45" y2="362.04" stroke="#333" stroke-width="0.8" />
<circle cx="89.25" cy="359.06" r="2.0" fill="#000"/>
<line x1="104.61" y1="360.18" x2="104.61" y2="363.16" stroke="#333" stroke-width="0.8" />
<line x1="102.41" y1="360.18" x2="106.81" y2="360.18" stroke="#333" stroke-width="0.8" />
<line x1="102.41" y1="363.16" x2="106.81" y2="363.16" stroke="#333" stroke-width="0.8" />
<circle cx="104.61" cy="361.67" r="2.0" fill="#000"/>
<line x1="119.96" y1="357.57" x2="119.96" y2="363.54" stroke="#333" stroke-width="0.8" />
<line x1="117.76" y1="357.57" x2="122.16" y2="357.57" stroke="#333" stroke-width="0.8" />
<line x1="117.76" y1="363.54" x2="122.16" y2="363.54" stroke="#333" stroke-width="0.8" />
<circle cx="119.96" cy="360.55" r="2.0" fill="#000"/>
<line x1="135.32" y1="364.28" x2="135.32" y2="370.25" stroke="#333" stroke-width="0.8" />
<line x1="133.12" y1="364.28" x2="137.52" y2="364.28" stroke="#333" stroke-width="0.8" />
<line x1="133.12" y1="370.25" x2="137.52" y2="370.25" stroke="#333" stroke-width="0.8" />
<circle cx="135.32" cy="367.26" r="2.0" fill="#000"/>
<line x1="150.68" y1="365.4" x2="150.68" y2="369.13" stroke="#333" stroke-width="0.8" />
<line x1="148.48" y1="365.4" x2="152.88" y2="365.4" stroke="#333" stroke-width="0.8" />
<line x1="148.48" y1="369.13" x2="152.88" y2="369.13" stroke="#333" stroke-width="0.8" />
<circle cx="150.68" cy="367.26" r="2.0" fill="#000"/>
<line x1="166.04" y1="370.06" x2="166.04" y2="373.79" stroke="#333" stroke-width="0.8" />
<line x1="163.84" y1="370.06" x2="168.24" y2="370.06" stroke="#333" stroke-width="0.8" />
<line x1="163.84" y1="373.79" x2="168.24" y2="373.79" stroke="#333" stroke-width="0.8" />
<circle cx="166.04" cy="371.92" r="2.0" fill="#000"/>
<line x1="181.39" y1="372.48" x2="181.39" y2="374.72" stroke="#333" stroke-width="0.8" />
<line x1="179.19" y1="372.48" x2="183.59" y2="372.48" stroke="#333" stroke-width="0.8" />
<line x1="179.19" y1="374.72" x2="183.59" y2="374.72" stroke="#333" stroke-width="0.8" />
<circle cx="181.39" cy="373.6" r="2.0" fill="#000"/>
<line x1="196.75" y1="372.71" x2="196.75" y2="375.69" stroke="#333" stroke-width="0.8" />
<line x1="194.55" y1="372.71" x2="198.95" y2="372.71" stroke="#333" stroke-width="0.8" />
<line x1="194.55" y1="375.69" x2="198.95" y2="375.69" stroke="#333" stroke-width="0.8" />
<circle cx="196.75" cy="374.2" r="2.0" fill="#000"/>
<line x1="212.11" y1="365.85" x2="212.11" y2="374.79" stroke="#333" stroke-width="0.8" />
<line x1="209.91" y1="365.85" x2="214.31" y2="365.85" stroke="#333" stroke-width="0.8" />
<line x1="209.91" y1="374.79" x2="214.31" y2="374.79" stroke="#333" stroke-width="0.8" />
<circle cx="212.11" cy="370.32" r="2.0" fill="#000"/>
<circle cx="227.46" cy="377.33" r="2.0" fill="#000"/>
<circle cx="242.82" cy="377.7" r="2.0" fill="#000"/>
<line x1="33.9" y1="523.6" x2="250.5" y2="523.6" stroke="#5a5a5a" stroke-width="1.1" stroke-dasharray="3.8 1.9" />
<line x1="33.9" y1="530.3" x2="250.5" y2="530.3" stroke="#858585" stroke-width="1.3" />
<line x1="33.9" y1="537" x2="250.5" y2="537" stroke="#5a5a5a" stroke-width="1.1" stroke-dasharray="3.8 1.9" />
<rect x="33.9" y="436.2" width="216.6" height="151.5" fill="none" stroke="#6e6e6e" stroke-width="1.0"/>
<line x1="33.9" y1="587.7" x2="33.9" y2="585.9" stroke="#808080" stroke-width="0.8" />
<line x1="33.9" y1="436.2" x2="33.9" y2="438" stroke="#999" stroke-width="0.8" />
<line x1="40.08" y1="587.7" x2="40.08" y2="585.9" stroke="#808080" stroke-width="0.8" />
<line x1="40.08" y1="436.2" x2="40.08" y2="438" stroke="#999" stroke-width="0.8" />
<line x1="46.27" y1="587.7" x2="46.27" y2="585.9" stroke="#808080" stroke-width="0.8" />
<line x1="46.27" y1="436.2" x2="46.27" y2="438" stroke="#999" stroke-width="0.8" />
<line x1="52.45" y1="587.7" x2="52.45" y2="585.9" stroke="#808080" stroke-width="0.8" />
<line x1="52.45" y1="436.2" x2="52.45" y2="438" stroke="#999" stroke-width="0.8" />
<line x1="58.63" y1="587.7" x2="58.63" y2="585.9" stroke="#808080" stroke-width="0.8" />
<line x1="58.63" y1="436.2" x2="58.63" y2="438" stroke="#999" stroke-width="0.8" />
<line x1="64.81" y1="587.7" x2="64.81" y2="585.9" stroke="#808080" stroke-width="0.8" />
<line x1="64.81" y1="436.2" x2="64.81" y2="438" stroke="#999" stroke-width="0.8" />
<line x1="71" y1="587.7" x2="71" y2="585.9" stroke="#808080" stroke-width="0.8" />
<line x1="71" y1="436.2" x2="71" y2="438" stroke="#999" stroke-width="0.8" />
<line x1="77.18" y1="587.7" x2="77.18" y2="585.9" stroke="#808080" stroke-width="0.8" />
<line x1="77.18" y1="436.2" x2="77.18" y2="438" stroke="#999" stroke-width="0.8" />
<line x1="83.36" y1="587.7" x2="83.36" y2="585.9" stroke="#808080" stroke-width="0.8" />
<line x1="83.36" y1="436.2" x2="83.36" y2="438" stroke="#999" stroke-width="0.8" />
<line x1="89.55" y1="587.7" x2="89.55" y2="585.9" stroke="#808080" stroke-width="0.8" />
<line x1="89.55" y1="436.2" x2="89.55" y2="438" stroke="#999" stroke-width="0.8" />
<line x1="95.73" y1="587.7" x2="95.73" y2="585.9" stroke="#808080" stroke-width="0.8" />
<line x1="95.73" y1="436.2" x2="95.73" y2="438" stroke="#999" stroke-width="0.8" />
<line x1="101.91" y1="587.7" x2="101.91" y2="585.9" stroke="#808080" stroke-width="0.8" />
<line x1="101.91" y1="436.2" x2="101.91" y2="438" stroke="#999" stroke-width="0.8" />
<line x1="108.09" y1="587.7" x2="108.09" y2="585.9" stroke="#808080" stroke-width="0.8" />
<line x1="108.09" y1="436.2" x2="108.09" y2="438" stroke="#999" stroke-width="0.8" />
<line x1="114.28" y1="587.7" x2="114.28" y2="585.9" stroke="#808080" stroke-width="0.8" />
<line x1="114.28" y1="436.2" x2="114.28" y2="438" stroke="#999" stroke-width="0.8" />
<line x1="120.46" y1="587.7" x2="120.46" y2="585.9" stroke="#808080" stroke-width="0.8" />
<line x1="120.46" y1="436.2" x2="120.46" y2="438" stroke="#999" stroke-width="0.8" />
<line x1="126.64" y1="587.7" x2="126.64" y2="585.9" stroke="#808080" stroke-width="0.8" />
<line x1="126.64" y1="436.2" x2="126.64" y2="438" stroke="#999" stroke-width="0.8" />
<line x1="132.83" y1="587.7" x2="132.83" y2="585.9" stroke="#808080" stroke-width="0.8" />
<line x1="132.83" y1="436.2" x2="132.83" y2="438" stroke="#999" stroke-width="0.8" />
<line x1="139.01" y1="587.7" x2="139.01" y2="585.9" stroke="#808080" stroke-width="0.8" />
<line x1="139.01" y1="436.2" x2="139.01" y2="438" stroke="#999" stroke-width="0.8" />
<line x1="145.19" y1="587.7" x2="145.19" y2="585.9" stroke="#808080" stroke-width="0.8" />
<line x1="145.19" y1="436.2" x2="145.19" y2="438" stroke="#999" stroke-width="0.8" />
<line x1="151.37" y1="587.7" x2="151.37" y2="585.9" stroke="#808080" stroke-width="0.8" />
<line x1="151.37" y1="436.2" x2="151.37" y2="438" stroke="#999" stroke-width="0.8" />
<line x1="157.56" y1="587.7" x2="157.56" y2="585.9" stroke="#808080" stroke-width="0.8" />
<line x1="157.56" y1="436.2" x2="157.56" y2="438" stroke="#999" stroke-width="0.8" />
<line x1="163.74" y1="587.7" x2="163.74" y2="585.9" stroke="#808080" stroke-width="0.8" />
<line x1="163.74" y1="436.2" x2="163.74" y2="438" stroke="#999" stroke-width="0.8" />
<line x1="169.92" y1="587.7" x2="169.92" y2="585.9" stroke="#808080" stroke-width="0.8" />
<line x1="169.92" y1="436.2" x2="169.92" y2="438" stroke="#999" stroke-width="0.8" />
<line x1="176.11" y1="587.7" x2="176.11" y2="585.9" stroke="#808080" stroke-width="0.8" />
<line x1="176.11" y1="436.2" x2="176.11" y2="438" stroke="#999" stroke-width="0.8" />
<line x1="182.29" y1="587.7" x2="182.29" y2="585.9" stroke="#808080" stroke-width="0.8" />
<line x1="182.29" y1="436.2" x2="182.29" y2="438" stroke="#999" stroke-width="0.8" />
<line x1="188.47" y1="587.7" x2="188.47" y2="585.9" stroke="#808080" stroke-width="0.8" />
<line x1="188.47" y1="436.2" x2="188.47" y2="438" stroke="#999" stroke-width="0.8" />
<line x1="194.65" y1="587.7" x2="194.65" y2="585.9" stroke="#808080" stroke-width="0.8" />
<line x1="194.65" y1="436.2" x2="194.65" y2="438" stroke="#999" stroke-width="0.8" />
<line x1="200.84" y1="587.7" x2="200.84" y2="585.9" stroke="#808080" stroke-width="0.8" />
<line x1="200.84" y1="436.2" x2="200.84" y2="438" stroke="#999" stroke-width="0.8" />
<line x1="207.02" y1="587.7" x2="207.02" y2="585.9" stroke="#808080" stroke-width="0.8" />
<line x1="207.02" y1="436.2" x2="207.02" y2="438" stroke="#999" stroke-width="0.8" />
<line x1="213.2" y1="587.7" x2="213.2" y2="585.9" stroke="#808080" stroke-width="0.8" />
<line x1="213.2" y1="436.2" x2="213.2" y2="438" stroke="#999" stroke-width="0.8" />
<line x1="219.39" y1="587.7" x2="219.39" y2="585.9" stroke="#808080" stroke-width="0.8" />
<line x1="219.39" y1="436.2" x2="219.39" y2="438" stroke="#999" stroke-width="0.8" />
<line x1="225.57" y1="587.7" x2="225.57" y2="585.9" stroke="#808080" stroke-width="0.8" />
<line x1="225.57" y1="436.2" x2="225.57" y2="438" stroke="#999" stroke-width="0.8" />
<line x1="231.75" y1="587.7" x2="231.75" y2="585.9" stroke="#808080" stroke-width="0.8" />
<line x1="231.75" y1="436.2" x2="231.75" y2="438" stroke="#999" stroke-width="0.8" />
<line x1="237.93" y1="587.7" x2="237.93" y2="585.9" stroke="#808080" stroke-width="0.8" />
<line x1="237.93" y1="436.2" x2="237.93" y2="438" stroke="#999" stroke-width="0.8" />
<line x1="244.12" y1="587.7" x2="244.12" y2="585.9" stroke="#808080" stroke-width="0.8" />
<line x1="244.12" y1="436.2" x2="244.12" y2="438" stroke="#999" stroke-width="0.8" />
<line x1="250.3" y1="587.7" x2="250.3" y2="585.9" stroke="#808080" stroke-width="0.8" />
<line x1="250.3" y1="436.2" x2="250.3" y2="438" stroke="#999" stroke-width="0.8" />
<line x1="31.7" y1="587.7" x2="33.9" y2="587.7" stroke="#6e6e6e" stroke-width="0.8" />
<line x1="31.7" y1="549.83" x2="33.9" y2="549.83" stroke="#6e6e6e" stroke-width="0.8" />
<line x1="31.7" y1="511.95" x2="33.9" y2="511.95" stroke="#6e6e6e" stroke-width="0.8" />
<line x1="31.7" y1="474.07" x2="33.9" y2="474.07" stroke="#6e6e6e" stroke-width="0.8" />
<line x1="31.7" y1="436.2" x2="33.9" y2="436.2" stroke="#6e6e6e" stroke-width="0.8" />
<text x="28.3" y="590.2" font-size="7" font-weight="normal" font-style="normal" text-anchor="end" fill="#222" stroke="#222" stroke-width="0.25" >0</text>
<text x="28.3" y="552.33" font-size="7" font-weight="normal" font-style="normal" text-anchor="end" fill="#222" stroke="#222" stroke-width="0.25" >10</text>
<text x="28.3" y="514.45" font-size="7" font-weight="normal" font-style="normal" text-anchor="end" fill="#222" stroke="#222" stroke-width="0.25" >20</text>
<text x="28.3" y="476.57" font-size="7" font-weight="normal" font-style="normal" text-anchor="end" fill="#222" stroke="#222" stroke-width="0.25" >30</text>
<text x="28.3" y="438.7" font-size="7" font-weight="normal" font-style="normal" text-anchor="end" fill="#222" stroke="#222" stroke-width="0.25" >40</text>
<text x="33.9" y="597.3" font-size="7" font-weight="normal" font-style="normal" text-anchor="middle" fill="#222" stroke="#222" stroke-width="0.25" >0</text>
<text x="64.81" y="597.3" font-size="7" font-weight="normal" font-style="normal" text-anchor="middle" fill="#222" stroke="#222" stroke-width="0.25" >100</text>
<text x="95.73" y="597.3" font-size="7" font-weight="normal" font-style="normal" text-anchor="middle" fill="#222" stroke="#222" stroke-width="0.25" >200</text>
<text x="126.64" y="597.3" font-size="7" font-weight="normal" font-style="normal" text-anchor="middle" fill="#222" stroke="#222" stroke-width="0.25" >300</text>
<text x="157.56" y="597.3" font-size="7" font-weight="normal" font-style="normal" text-anchor="middle" fill="#222" stroke="#222" stroke-width="0.25" >400</text>
<text x="188.47" y="597.3" font-size="7" font-weight="normal" font-style="normal" text-anchor="middle" fill="#222" stroke="#222" stroke-width="0.25" >500</text>
<text x="219.39" y="597.3" font-size="7" font-weight="normal" font-style="normal" text-anchor="middle" fill="#222" stroke="#222" stroke-width="0.25" >600</text>
<text x="250.3" y="597.3" font-size="7" font-weight="normal" font-style="normal" text-anchor="middle" fill="#222" stroke="#222" stroke-width="0.25" >700</text>
<text x="119.1" y="429.5" font-size="9.8" font-weight="bold" font-style="normal" text-anchor="start" fill="#000" stroke="#000" stroke-width="0.25" >Iliac Crest</text>
<text x="38.6" y="449.7" font-size="13.6" font-weight="bold" font-style="normal" text-anchor="start" fill="#000" stroke="#000" stroke-width="0.25" >C</text>
<text x="25.1" y="613.2" font-size="8.35" font-weight="bold" font-style="normal" text-anchor="start" fill="#000" stroke="#000" stroke-width="0.25" >Depth in marrow cavity / Distance from bone surfaces (µm)</text>
<text transform="translate(12.8,599.35) rotate(-90)" font-size="8.3" font-weight="bold" text-anchor="start">Mean Spatial Concentration (vessels / mm<tspan font-size="6.5" dy="-4.3">2</tspan><tspan font-size="7" dy="4.3">)</tspan></text>
<rect x="115.5" y="443" width="117" height="24.5" fill="#fff" stroke="#6e6e6e" stroke-width="0.9"/>
<circle cx="129.3" cy="450.6" r="2.1" fill="#000"/>
<line x1="119.7" y1="459.17" x2="136.5" y2="459.17" stroke="#222" stroke-width="1.4" stroke-dasharray="4.4 1.8" />
<text x="143.7" y="452.9" font-size="6.6" font-weight="bold" font-style="italic" text-anchor="start" fill="#000" stroke="#000" stroke-width="0.25" >Blood Vessels</text>
<text x="143.7" y="461.47" font-size="6.6" font-weight="bold" font-style="italic" text-anchor="start" fill="#000" stroke="#000" stroke-width="0.25" >Exponential Fit (R<tspan font-size="4.4" dy="-2.6">2</tspan><tspan dy="2.6"> = 0.899)</tspan></text>
<text x="113" y="515.1" font-size="6.0" font-weight="bold" font-style="italic" text-anchor="start" fill="#000" stroke="#000" stroke-width="0.25" >Mean Average Concentration</text>
<line x1="198.1" y1="516.3" x2="210.2" y2="528.8" stroke="#111" stroke-width="1.1" />
<polygon points="210.2,528.8 203.88,525.87 207.48,522.39" fill="#111"/>
<polyline points="41.63,482.71 41.78,483.13 41.94,483.54 42.09,483.95 42.25,484.35 42.4,484.76 42.56,485.16 42.71,485.57 42.87,485.97 43.02,486.37 43.17,486.77 43.33,487.16 43.48,487.56 43.64,487.95 43.79,488.34 43.95,488.73 44.1,489.12 44.26,489.51 44.41,489.9 44.57,490.28 44.72,490.66 44.87,491.04 45.03,491.42 45.18,491.8 45.34,492.18 45.49,492.55 45.65,492.93 45.8,493.3 45.96,493.67 46.11,494.04 46.27,494.41 46.42,494.78 46.57,495.14 46.73,495.5 46.88,495.87 47.04,496.23 47.19,496.59 47.35,496.94 47.5,497.3 47.66,497.66 47.81,498.01 47.97,498.36 48.12,498.71 48.28,499.06 48.43,499.41 48.58,499.76 48.74,500.1 48.89,500.45 49.05,500.79 49.2,501.13 49.36,501.47 49.51,501.81 49.67,502.15 49.82,502.49 49.98,502.82 50.13,503.15 50.28,503.49 50.44,503.82 50.59,504.15 50.75,504.47 50.9,504.8 51.06,505.13 51.21,505.45 51.37,505.77 51.52,506.1 51.68,506.42 51.83,506.74 51.98,507.06 52.14,507.37 52.29,507.69 52.45,508 52.6,508.32 52.76,508.63 52.91,508.94 53.07,509.25 53.22,509.56 53.38,509.86 53.53,510.17 53.69,510.47 53.84,510.78 53.99,511.08 54.15,511.38 54.3,511.68 54.46,511.98 54.61,512.28 54.77,512.57 54.92,512.87 55.08,513.16 55.23,513.45 55.39,513.75 55.54,514.04 55.69,514.33 55.85,514.61 56,514.9 56.16,515.19 56.31,515.47 56.47,515.76 56.62,516.04 56.78,516.32 56.93,516.6 57.09,516.88 57.24,517.16 57.39,517.44 57.55,517.71 57.7,517.99 57.86,518.26 58.01,518.53 58.17,518.81 58.32,519.08 58.48,519.35 58.63,519.61 58.79,519.88 58.94,520.15 59.1,520.41 59.25,520.68 59.4,520.94 59.56,521.2 59.71,521.47 59.87,521.73 60.02,521.98 60.18,522.24 60.33,522.5 60.49,522.76 60.64,523.01 60.8,523.27 60.95,523.52 61.1,523.77 61.26,524.02 61.41,524.27 61.57,524.52 61.72,524.77 61.88,525.02 62.03,525.26 62.19,525.51 62.34,525.75 62.5,526 62.65,526.24 62.8,526.48 62.96,526.72 63.11,526.96 63.27,527.2 63.42,527.44 63.58,527.67 63.73,527.91 63.89,528.14 64.04,528.38 64.2,528.61 64.35,528.84 64.51,529.08 64.66,529.31 64.81,529.53 64.97,529.76 65.12,529.99 65.28,530.22 65.43,530.44 65.59,530.67 65.74,530.89 65.9,531.12 66.05,531.34 66.21,531.56 66.36,531.78 66.51,532 66.67,532.22 66.82,532.44 66.98,532.65 67.13,532.87 67.29,533.09 67.44,533.3 67.6,533.51 67.75,533.73 67.91,533.94 68.06,534.15 68.21,534.36 68.37,534.57 68.52,534.78 68.68,534.99 68.83,535.19 68.99,535.4 69.14,535.61 69.3,535.81 69.45,536.01 69.61,536.22 69.76,536.42 69.92,536.62 70.07,536.82 70.22,537.02 70.38,537.22 70.53,537.42 70.69,537.62 70.84,537.81 71,538.01 71.92,539.17 72.85,540.3 73.78,541.41 74.71,542.49 75.63,543.55 76.56,544.58 77.49,545.58 78.42,546.57 79.34,547.53 80.27,548.46 81.2,549.38 82.13,550.27 83.05,551.15 83.98,552 84.91,552.84 85.84,553.65 86.76,554.44 87.69,555.22 88.62,555.98 89.55,556.72 90.47,557.44 91.4,558.15 92.33,558.84 93.26,559.51 94.18,560.17 95.11,560.81 96.04,561.44 96.97,562.05 97.89,562.65 98.82,563.24 99.75,563.81 100.67,564.37 101.6,564.91 102.53,565.44 103.46,565.96 104.38,566.47 105.31,566.97 106.24,567.45 107.17,567.92 108.09,568.38 109.02,568.84 109.95,569.28 110.88,569.71 111.8,570.13 112.73,570.54 113.66,570.94 114.59,571.33 115.51,571.71 116.44,572.08 117.37,572.45 118.3,572.8 119.22,573.15 120.15,573.49 121.08,573.82 122.01,574.15 122.93,574.46 123.86,574.77 124.79,575.07 125.72,575.37 126.64,575.66 127.57,575.94 128.5,576.21 129.43,576.48 130.35,576.74 131.28,577 132.21,577.25 133.13,577.49 134.06,577.73 134.99,577.96 135.92,578.19 136.84,578.41 137.77,578.63 138.7,578.84 139.63,579.05 140.55,579.25 141.48,579.45 142.41,579.64 143.34,579.83 144.26,580.01 145.19,580.19 146.12,580.37 147.05,580.54 147.97,580.71 148.9,580.87 149.83,581.03 150.76,581.18 151.68,581.34 152.61,581.48 153.54,581.63 154.47,581.77 155.39,581.91 156.32,582.04 157.25,582.18 158.18,582.31 159.1,582.43 160.03,582.55 160.96,582.67 161.89,582.79 162.81,582.91 163.74,583.02 164.67,583.13 165.59,583.23 166.52,583.34 167.45,583.44 168.38,583.54 169.3,583.64 170.23,583.73 171.16,583.82 172.09,583.92 173.01,584 173.94,584.09 174.87,584.17 175.8,584.26 176.72,584.34 177.65,584.42 178.58,584.49 179.51,584.57 180.43,584.64 181.36,584.71 182.29,584.78 183.22,584.85 184.14,584.92 185.07,584.98 186,585.04 186.93,585.11 187.85,585.17 188.78,585.23 189.71,585.28 190.64,585.34 191.56,585.4 192.49,585.45 193.42,585.5 194.35,585.55 195.27,585.6 196.2,585.65 197.13,585.7 198.05,585.75 198.98,585.79 199.91,585.84 200.84,585.88 201.76,585.92 202.69,585.96 203.62,586 204.55,586.04 205.47,586.08 206.4,586.12 207.33,586.16 208.26,586.19 209.18,586.23 210.11,586.26 211.04,586.3 211.97,586.33 212.89,586.36 213.82,586.39 214.75,586.42 215.68,586.45 216.6,586.48 217.53,586.51 218.46,586.54 219.39,586.57 220.31,586.59 221.24,586.62 222.17,586.64 223.1,586.67 224.02,586.69 224.95,586.72 225.88,586.74 226.81,586.76 227.73,586.78 228.66,586.8 229.59,586.83 230.51,586.85 231.44,586.87 232.37,586.88 233.3,586.9 234.22,586.92 235.15,586.94 236.08,586.96 237.01,586.98 237.93,586.99 238.86,587.01 239.79,587.03 240.72,587.04 241.64,587.06 242.57,587.07" fill="none" stroke="#2a2a2a" stroke-width="1.2" stroke-dasharray="4.4 2.0"/>
<line x1="41.63" y1="453.81" x2="41.63" y2="479.19" stroke="#333" stroke-width="0.8" />
<line x1="39.43" y1="453.81" x2="43.83" y2="453.81" stroke="#333" stroke-width="0.8" />
<line x1="39.43" y1="479.19" x2="43.83" y2="479.19" stroke="#333" stroke-width="0.8" />
<circle cx="41.63" cy="466.5" r="2.0" fill="#000"/>
<line x1="57.09" y1="535.92" x2="57.09" y2="544.79" stroke="#333" stroke-width="0.8" />
<line x1="54.89" y1="535.92" x2="59.29" y2="535.92" stroke="#333" stroke-width="0.8" />
<line x1="54.89" y1="544.79" x2="59.29" y2="544.79" stroke="#333" stroke-width="0.8" />
<circle cx="57.09" cy="540.36" r="2.0" fill="#000"/>
<line x1="72.54" y1="547.06" x2="72.54" y2="552.59" stroke="#333" stroke-width="0.8" />
<line x1="70.34" y1="547.06" x2="74.74" y2="547.06" stroke="#333" stroke-width="0.8" />
<line x1="70.34" y1="552.59" x2="74.74" y2="552.59" stroke="#333" stroke-width="0.8" />
<circle cx="72.54" cy="549.83" r="2.0" fill="#000"/>
<line x1="88" y1="548.95" x2="88" y2="558.27" stroke="#333" stroke-width="0.8" />
<line x1="85.8" y1="548.95" x2="90.2" y2="548.95" stroke="#333" stroke-width="0.8" />
<line x1="85.8" y1="558.27" x2="90.2" y2="558.27" stroke="#333" stroke-width="0.8" />
<circle cx="88" cy="553.61" r="2.0" fill="#000"/>
<line x1="103.46" y1="537.06" x2="103.46" y2="554.26" stroke="#333" stroke-width="0.8" />
<line x1="101.26" y1="537.06" x2="105.66" y2="537.06" stroke="#333" stroke-width="0.8" />
<line x1="101.26" y1="554.26" x2="105.66" y2="554.26" stroke="#333" stroke-width="0.8" />
<circle cx="103.46" cy="545.66" r="2.0" fill="#000"/>
<line x1="118.91" y1="554.1" x2="118.91" y2="569.79" stroke="#333" stroke-width="0.8" />
<line x1="116.71" y1="554.1" x2="121.11" y2="554.1" stroke="#333" stroke-width="0.8" />
<line x1="116.71" y1="569.79" x2="121.11" y2="569.79" stroke="#333" stroke-width="0.8" />
<circle cx="118.91" cy="561.95" r="2.0" fill="#000"/>
<line x1="134.37" y1="571.83" x2="134.37" y2="577.36" stroke="#333" stroke-width="0.8" />
<line x1="132.17" y1="571.83" x2="136.57" y2="571.83" stroke="#333" stroke-width="0.8" />
<line x1="132.17" y1="577.36" x2="136.57" y2="577.36" stroke="#333" stroke-width="0.8" />
<circle cx="134.37" cy="574.6" r="2.0" fill="#000"/>
<line x1="149.83" y1="582.02" x2="149.83" y2="585.81" stroke="#333" stroke-width="0.8" />
<line x1="147.63" y1="582.02" x2="152.03" y2="582.02" stroke="#333" stroke-width="0.8" />
<line x1="147.63" y1="585.81" x2="152.03" y2="585.81" stroke="#333" stroke-width="0.8" />
<circle cx="149.83" cy="583.91" r="2.0" fill="#000"/>
<line x1="165.29" y1="582.59" x2="165.29" y2="586.37" stroke="#333" stroke-width="0.8" />
<line x1="163.09" y1="582.59" x2="167.49" y2="582.59" stroke="#333" stroke-width="0.8" />
<line x1="163.09" y1="586.37" x2="167.49" y2="586.37" stroke="#333" stroke-width="0.8" />
<circle cx="165.29" cy="584.48" r="2.0" fill="#000"/>
<circle cx="180.74" cy="587.7" r="2.0" fill="#000"/>
<circle cx="196.2" cy="587.7" r="2.0" fill="#000"/>
<circle cx="211.66" cy="587.7" r="2.0" fill="#000"/>
<circle cx="227.11" cy="587.7" r="2.0" fill="#000"/>
<circle cx="242.57" cy="587.7" r="2.0" fill="#000"/>
<line x1="292" y1="133.65" x2="517.2" y2="133.65" stroke="#cccccc" stroke-width="1" stroke-dasharray="5.8 2.5" />
<line x1="292" y1="94.3" x2="517.2" y2="94.3" stroke="#cccccc" stroke-width="1" stroke-dasharray="5.8 2.5" />
<line x1="292" y1="54.95" x2="517.2" y2="54.95" stroke="#cccccc" stroke-width="1" stroke-dasharray="5.8 2.5" />
<rect x="292" y="15.6" width="225.2" height="157.4" fill="none" stroke="#6e6e6e" stroke-width="1.0"/>
<line x1="292" y1="173" x2="295" y2="173" stroke="#777" stroke-width="0.7" />
<line x1="517.2" y1="173" x2="514.2" y2="173" stroke="#777" stroke-width="0.7" />
<line x1="292" y1="165.13" x2="293.6" y2="165.13" stroke="#777" stroke-width="0.7" />
<line x1="517.2" y1="165.13" x2="515.6" y2="165.13" stroke="#777" stroke-width="0.7" />
<line x1="292" y1="157.26" x2="293.6" y2="157.26" stroke="#777" stroke-width="0.7" />
<line x1="517.2" y1="157.26" x2="515.6" y2="157.26" stroke="#777" stroke-width="0.7" />
<line x1="292" y1="149.39" x2="293.6" y2="149.39" stroke="#777" stroke-width="0.7" />
<line x1="517.2" y1="149.39" x2="515.6" y2="149.39" stroke="#777" stroke-width="0.7" />
<line x1="292" y1="141.52" x2="293.6" y2="141.52" stroke="#777" stroke-width="0.7" />
<line x1="517.2" y1="141.52" x2="515.6" y2="141.52" stroke="#777" stroke-width="0.7" />
<line x1="292" y1="133.65" x2="295" y2="133.65" stroke="#777" stroke-width="0.7" />
<line x1="517.2" y1="133.65" x2="514.2" y2="133.65" stroke="#777" stroke-width="0.7" />
<line x1="292" y1="125.78" x2="293.6" y2="125.78" stroke="#777" stroke-width="0.7" />
<line x1="517.2" y1="125.78" x2="515.6" y2="125.78" stroke="#777" stroke-width="0.7" />
<line x1="292" y1="117.91" x2="293.6" y2="117.91" stroke="#777" stroke-width="0.7" />
<line x1="517.2" y1="117.91" x2="515.6" y2="117.91" stroke="#777" stroke-width="0.7" />
<line x1="292" y1="110.04" x2="293.6" y2="110.04" stroke="#777" stroke-width="0.7" />
<line x1="517.2" y1="110.04" x2="515.6" y2="110.04" stroke="#777" stroke-width="0.7" />
<line x1="292" y1="102.17" x2="293.6" y2="102.17" stroke="#777" stroke-width="0.7" />
<line x1="517.2" y1="102.17" x2="515.6" y2="102.17" stroke="#777" stroke-width="0.7" />
<line x1="292" y1="94.3" x2="295" y2="94.3" stroke="#777" stroke-width="0.7" />
<line x1="517.2" y1="94.3" x2="514.2" y2="94.3" stroke="#777" stroke-width="0.7" />
<line x1="292" y1="86.43" x2="293.6" y2="86.43" stroke="#777" stroke-width="0.7" />
<line x1="517.2" y1="86.43" x2="515.6" y2="86.43" stroke="#777" stroke-width="0.7" />
<line x1="292" y1="78.56" x2="293.6" y2="78.56" stroke="#777" stroke-width="0.7" />
<line x1="517.2" y1="78.56" x2="515.6" y2="78.56" stroke="#777" stroke-width="0.7" />
<line x1="292" y1="70.69" x2="293.6" y2="70.69" stroke="#777" stroke-width="0.7" />
<line x1="517.2" y1="70.69" x2="515.6" y2="70.69" stroke="#777" stroke-width="0.7" />
<line x1="292" y1="62.82" x2="293.6" y2="62.82" stroke="#777" stroke-width="0.7" />
<line x1="517.2" y1="62.82" x2="515.6" y2="62.82" stroke="#777" stroke-width="0.7" />
<line x1="292" y1="54.95" x2="295" y2="54.95" stroke="#777" stroke-width="0.7" />
<line x1="517.2" y1="54.95" x2="514.2" y2="54.95" stroke="#777" stroke-width="0.7" />
<line x1="292" y1="47.08" x2="293.6" y2="47.08" stroke="#777" stroke-width="0.7" />
<line x1="517.2" y1="47.08" x2="515.6" y2="47.08" stroke="#777" stroke-width="0.7" />
<line x1="292" y1="39.21" x2="293.6" y2="39.21" stroke="#777" stroke-width="0.7" />
<line x1="517.2" y1="39.21" x2="515.6" y2="39.21" stroke="#777" stroke-width="0.7" />
<line x1="292" y1="31.34" x2="293.6" y2="31.34" stroke="#777" stroke-width="0.7" />
<line x1="517.2" y1="31.34" x2="515.6" y2="31.34" stroke="#777" stroke-width="0.7" />
<line x1="292" y1="23.47" x2="293.6" y2="23.47" stroke="#777" stroke-width="0.7" />
<line x1="517.2" y1="23.47" x2="515.6" y2="23.47" stroke="#777" stroke-width="0.7" />
<line x1="292" y1="15.6" x2="295" y2="15.6" stroke="#777" stroke-width="0.7" />
<line x1="517.2" y1="15.6" x2="514.2" y2="15.6" stroke="#777" stroke-width="0.7" />
<line x1="292" y1="173" x2="292" y2="170.4" stroke="#777" stroke-width="0.7" />
<line x1="292" y1="15.6" x2="292" y2="18.2" stroke="#777" stroke-width="0.7" />
<line x1="302.73" y1="173" x2="302.73" y2="171.4" stroke="#777" stroke-width="0.7" />
<line x1="302.73" y1="15.6" x2="302.73" y2="17.2" stroke="#777" stroke-width="0.7" />
<line x1="313.45" y1="173" x2="313.45" y2="170.4" stroke="#777" stroke-width="0.7" />
<line x1="313.45" y1="15.6" x2="313.45" y2="18.2" stroke="#777" stroke-width="0.7" />
<line x1="324.18" y1="173" x2="324.18" y2="171.4" stroke="#777" stroke-width="0.7" />
<line x1="324.18" y1="15.6" x2="324.18" y2="17.2" stroke="#777" stroke-width="0.7" />
<line x1="334.9" y1="173" x2="334.9" y2="170.4" stroke="#777" stroke-width="0.7" />
<line x1="334.9" y1="15.6" x2="334.9" y2="18.2" stroke="#777" stroke-width="0.7" />
<line x1="345.62" y1="173" x2="345.62" y2="171.4" stroke="#777" stroke-width="0.7" />
<line x1="345.62" y1="15.6" x2="345.62" y2="17.2" stroke="#777" stroke-width="0.7" />
<line x1="356.35" y1="173" x2="356.35" y2="170.4" stroke="#777" stroke-width="0.7" />
<line x1="356.35" y1="15.6" x2="356.35" y2="18.2" stroke="#777" stroke-width="0.7" />
<line x1="367.08" y1="173" x2="367.08" y2="171.4" stroke="#777" stroke-width="0.7" />
<line x1="367.08" y1="15.6" x2="367.08" y2="17.2" stroke="#777" stroke-width="0.7" />
<line x1="377.8" y1="173" x2="377.8" y2="170.4" stroke="#777" stroke-width="0.7" />
<line x1="377.8" y1="15.6" x2="377.8" y2="18.2" stroke="#777" stroke-width="0.7" />
<line x1="388.53" y1="173" x2="388.53" y2="171.4" stroke="#777" stroke-width="0.7" />
<line x1="388.53" y1="15.6" x2="388.53" y2="17.2" stroke="#777" stroke-width="0.7" />
<line x1="399.25" y1="173" x2="399.25" y2="170.4" stroke="#777" stroke-width="0.7" />
<line x1="399.25" y1="15.6" x2="399.25" y2="18.2" stroke="#777" stroke-width="0.7" />
<line x1="409.98" y1="173" x2="409.98" y2="171.4" stroke="#777" stroke-width="0.7" />
<line x1="409.98" y1="15.6" x2="409.98" y2="17.2" stroke="#777" stroke-width="0.7" />
<line x1="420.7" y1="173" x2="420.7" y2="170.4" stroke="#777" stroke-width="0.7" />
<line x1="420.7" y1="15.6" x2="420.7" y2="18.2" stroke="#777" stroke-width="0.7" />
<line x1="431.43" y1="173" x2="431.43" y2="171.4" stroke="#777" stroke-width="0.7" />
<line x1="431.43" y1="15.6" x2="431.43" y2="17.2" stroke="#777" stroke-width="0.7" />
<line x1="442.15" y1="173" x2="442.15" y2="170.4" stroke="#777" stroke-width="0.7" />
<line x1="442.15" y1="15.6" x2="442.15" y2="18.2" stroke="#777" stroke-width="0.7" />
<line x1="452.88" y1="173" x2="452.88" y2="171.4" stroke="#777" stroke-width="0.7" />
<line x1="452.88" y1="15.6" x2="452.88" y2="17.2" stroke="#777" stroke-width="0.7" />
<line x1="463.6" y1="173" x2="463.6" y2="170.4" stroke="#777" stroke-width="0.7" />
<line x1="463.6" y1="15.6" x2="463.6" y2="18.2" stroke="#777" stroke-width="0.7" />
<line x1="474.33" y1="173" x2="474.33" y2="171.4" stroke="#777" stroke-width="0.7" />
<line x1="474.33" y1="15.6" x2="474.33" y2="17.2" stroke="#777" stroke-width="0.7" />
<line x1="485.05" y1="173" x2="485.05" y2="170.4" stroke="#777" stroke-width="0.7" />
<line x1="485.05" y1="15.6" x2="485.05" y2="18.2" stroke="#777" stroke-width="0.7" />
<line x1="495.78" y1="173" x2="495.78" y2="171.4" stroke="#777" stroke-width="0.7" />
<line x1="495.78" y1="15.6" x2="495.78" y2="17.2" stroke="#777" stroke-width="0.7" />
<line x1="506.5" y1="173" x2="506.5" y2="170.4" stroke="#777" stroke-width="0.7" />
<line x1="506.5" y1="15.6" x2="506.5" y2="18.2" stroke="#777" stroke-width="0.7" />
<text x="289" y="175.2" font-size="6.3" font-weight="normal" font-style="normal" text-anchor="end" fill="#222" stroke="#222" stroke-width="0.25" >0.00</text>
<text x="289" y="135.85" font-size="6.3" font-weight="normal" font-style="normal" text-anchor="end" fill="#222" stroke="#222" stroke-width="0.25" >0.05</text>
<text x="289" y="96.5" font-size="6.3" font-weight="normal" font-style="normal" text-anchor="end" fill="#222" stroke="#222" stroke-width="0.25" >0.10</text>
<text x="289" y="57.15" font-size="6.3" font-weight="normal" font-style="normal" text-anchor="end" fill="#222" stroke="#222" stroke-width="0.25" >0.15</text>
<text x="289" y="17.8" font-size="6.3" font-weight="normal" font-style="normal" text-anchor="end" fill="#222" stroke="#222" stroke-width="0.25" >0.20</text>
<text x="292" y="181.7" font-size="6.1" font-weight="normal" font-style="normal" text-anchor="middle" fill="#222" stroke="#222" stroke-width="0.25" >0</text>
<text x="313.45" y="181.7" font-size="6.1" font-weight="normal" font-style="normal" text-anchor="middle" fill="#222" stroke="#222" stroke-width="0.25" >100</text>
<text x="334.9" y="181.7" font-size="6.1" font-weight="normal" font-style="normal" text-anchor="middle" fill="#222" stroke="#222" stroke-width="0.25" >200</text>
<text x="356.35" y="181.7" font-size="6.1" font-weight="normal" font-style="normal" text-anchor="middle" fill="#222" stroke="#222" stroke-width="0.25" >300</text>
<text x="377.8" y="181.7" font-size="6.1" font-weight="normal" font-style="normal" text-anchor="middle" fill="#222" stroke="#222" stroke-width="0.25" >400</text>
<text x="399.25" y="181.7" font-size="6.1" font-weight="normal" font-style="normal" text-anchor="middle" fill="#222" stroke="#222" stroke-width="0.25" >500</text>
<text x="420.7" y="181.7" font-size="6.1" font-weight="normal" font-style="normal" text-anchor="middle" fill="#222" stroke="#222" stroke-width="0.25" >600</text>
<text x="442.15" y="181.7" font-size="6.1" font-weight="normal" font-style="normal" text-anchor="middle" fill="#222" stroke="#222" stroke-width="0.25" >700</text>
<text x="463.6" y="181.7" font-size="6.1" font-weight="normal" font-style="normal" text-anchor="middle" fill="#222" stroke="#222" stroke-width="0.25" >800</text>
<text x="485.05" y="181.7" font-size="6.1" font-weight="normal" font-style="normal" text-anchor="middle" fill="#222" stroke="#222" stroke-width="0.25" >900</text>
<text x="506.5" y="181.7" font-size="6.1" font-weight="normal" font-style="normal" text-anchor="middle" fill="#222" stroke="#222" stroke-width="0.25" >1000</text>
<text x="397.3" y="10.6" font-size="8.9" font-weight="bold" font-style="normal" text-anchor="middle" fill="#000" stroke="#000" stroke-width="0.25" >Rib</text>
<text x="295.2" y="29.4" font-size="13.6" font-weight="bold" font-style="normal" text-anchor="start" fill="#000" stroke="#000" stroke-width="0.25" >D</text>
<text x="315.4" y="196.2" font-size="7.5" font-weight="bold" font-style="normal" text-anchor="start" fill="#000" stroke="#000" stroke-width="0.25" >Hematopoetic CD34+ cell to blood vessel distance</text>
<text transform="translate(269.1,94.3) rotate(-90)" font-size="7.3" font-weight="bold" text-anchor="middle">Relative Frequency</text>
<line x1="297.36" y1="97.45" x2="297.36" y2="105" stroke="#555" stroke-width="0.8" />
<line x1="295.36" y1="97.45" x2="299.36" y2="97.45" stroke="#555" stroke-width="0.8" />
<rect x="295.46" y="105" width="3.8" height="68" fill="#e0e0e0" stroke="#777" stroke-width="1.2"/>
<line x1="308.09" y1="73.84" x2="308.09" y2="77.85" stroke="#555" stroke-width="0.8" />
<line x1="306.09" y1="73.84" x2="310.09" y2="73.84" stroke="#555" stroke-width="0.8" />
<rect x="306.19" y="77.85" width="3.8" height="95.15" fill="#e0e0e0" stroke="#777" stroke-width="1.2"/>
<line x1="318.81" y1="59.36" x2="318.81" y2="66.68" stroke="#555" stroke-width="0.8" />
<line x1="316.81" y1="59.36" x2="320.81" y2="59.36" stroke="#555" stroke-width="0.8" />
<rect x="316.91" y="66.68" width="3.8" height="106.32" fill="#e0e0e0" stroke="#777" stroke-width="1.2"/>
<line x1="329.54" y1="48.97" x2="329.54" y2="55.5" stroke="#555" stroke-width="0.8" />
<line x1="327.54" y1="48.97" x2="331.54" y2="48.97" stroke="#555" stroke-width="0.8" />
<rect x="327.64" y="55.5" width="3.8" height="117.5" fill="#e0e0e0" stroke="#777" stroke-width="1.2"/>
<line x1="340.26" y1="82.81" x2="340.26" y2="87.77" stroke="#555" stroke-width="0.8" />
<line x1="338.26" y1="82.81" x2="342.26" y2="82.81" stroke="#555" stroke-width="0.8" />
<rect x="338.36" y="87.77" width="3.8" height="85.23" fill="#e0e0e0" stroke="#777" stroke-width="1.2"/>
<line x1="350.99" y1="105.79" x2="350.99" y2="111.54" stroke="#555" stroke-width="0.8" />
<line x1="348.99" y1="105.79" x2="352.99" y2="105.79" stroke="#555" stroke-width="0.8" />
<rect x="349.09" y="111.54" width="3.8" height="61.46" fill="#e0e0e0" stroke="#777" stroke-width="1.2"/>
<line x1="361.71" y1="110.98" x2="361.71" y2="115.39" stroke="#555" stroke-width="0.8" />
<line x1="359.71" y1="110.98" x2="363.71" y2="110.98" stroke="#555" stroke-width="0.8" />
<rect x="359.81" y="115.39" width="3.8" height="57.61" fill="#e0e0e0" stroke="#777" stroke-width="1.2"/>
<line x1="372.44" y1="128.46" x2="372.44" y2="134.44" stroke="#555" stroke-width="0.8" />
<line x1="370.44" y1="128.46" x2="374.44" y2="128.46" stroke="#555" stroke-width="0.8" />
<rect x="370.54" y="134.44" width="3.8" height="38.56" fill="#e0e0e0" stroke="#777" stroke-width="1.2"/>
<line x1="383.16" y1="132.31" x2="383.16" y2="137.59" stroke="#555" stroke-width="0.8" />
<line x1="381.16" y1="132.31" x2="385.16" y2="132.31" stroke="#555" stroke-width="0.8" />
<rect x="381.26" y="137.59" width="3.8" height="35.41" fill="#e0e0e0" stroke="#777" stroke-width="1.2"/>
<line x1="393.89" y1="133.65" x2="393.89" y2="139.16" stroke="#555" stroke-width="0.8" />
<line x1="391.89" y1="133.65" x2="395.89" y2="133.65" stroke="#555" stroke-width="0.8" />
<rect x="391.99" y="139.16" width="3.8" height="33.84" fill="#e0e0e0" stroke="#777" stroke-width="1.2"/>
<line x1="404.61" y1="145.45" x2="404.61" y2="148.92" stroke="#555" stroke-width="0.8" />
<line x1="402.61" y1="145.45" x2="406.61" y2="145.45" stroke="#555" stroke-width="0.8" />
<rect x="402.71" y="148.92" width="3.8" height="24.08" fill="#e0e0e0" stroke="#777" stroke-width="1.2"/>
<line x1="415.34" y1="157.26" x2="415.34" y2="159.38" stroke="#555" stroke-width="0.8" />
<line x1="413.34" y1="157.26" x2="417.34" y2="157.26" stroke="#555" stroke-width="0.8" />
<rect x="413.44" y="159.38" width="3.8" height="13.62" fill="#e0e0e0" stroke="#777" stroke-width="1.2"/>
<line x1="426.06" y1="157.5" x2="426.06" y2="160.25" stroke="#555" stroke-width="0.8" />
<line x1="424.06" y1="157.5" x2="428.06" y2="157.5" stroke="#555" stroke-width="0.8" />
<rect x="424.16" y="160.25" width="3.8" height="12.75" fill="#e0e0e0" stroke="#777" stroke-width="1.2"/>
<line x1="436.79" y1="165.13" x2="436.79" y2="166.63" stroke="#555" stroke-width="0.8" />
<line x1="434.79" y1="165.13" x2="438.79" y2="165.13" stroke="#555" stroke-width="0.8" />
<rect x="434.89" y="166.63" width="3.8" height="6.37" fill="#e0e0e0" stroke="#777" stroke-width="1.2"/>
<line x1="447.51" y1="164.34" x2="447.51" y2="165.92" stroke="#555" stroke-width="0.8" />
<line x1="445.51" y1="164.34" x2="449.51" y2="164.34" stroke="#555" stroke-width="0.8" />
<rect x="445.61" y="165.92" width="3.8" height="7.08" fill="#e0e0e0" stroke="#777" stroke-width="1.2"/>
<line x1="458.24" y1="167.1" x2="458.24" y2="168.28" stroke="#555" stroke-width="0.8" />
<line x1="456.24" y1="167.1" x2="460.24" y2="167.1" stroke="#555" stroke-width="0.8" />
<rect x="456.34" y="168.28" width="3.8" height="4.72" fill="#e0e0e0" stroke="#777" stroke-width="1.2"/>
<line x1="468.96" y1="161.19" x2="468.96" y2="162.77" stroke="#555" stroke-width="0.8" />
<line x1="466.96" y1="161.19" x2="470.96" y2="161.19" stroke="#555" stroke-width="0.8" />
<rect x="467.06" y="162.77" width="3.8" height="10.23" fill="#e0e0e0" stroke="#777" stroke-width="1.2"/>
<line x1="479.69" y1="167.1" x2="479.69" y2="168.44" stroke="#555" stroke-width="0.8" />
<line x1="477.69" y1="167.1" x2="481.69" y2="167.1" stroke="#555" stroke-width="0.8" />
<rect x="477.79" y="168.44" width="3.8" height="4.56" fill="#e0e0e0" stroke="#777" stroke-width="1.2"/>
<line x1="490.41" y1="167.49" x2="490.41" y2="168.91" stroke="#555" stroke-width="0.8" />
<line x1="488.41" y1="167.49" x2="492.41" y2="167.49" stroke="#555" stroke-width="0.8" />
<rect x="488.51" y="168.91" width="3.8" height="4.09" fill="#e0e0e0" stroke="#777" stroke-width="1.2"/>
<line x1="501.14" y1="170.64" x2="501.14" y2="171.43" stroke="#555" stroke-width="0.8" />
<line x1="499.14" y1="170.64" x2="503.14" y2="170.64" stroke="#555" stroke-width="0.8" />
<rect x="499.24" y="171.43" width="3.8" height="1.57" fill="#e0e0e0" stroke="#777" stroke-width="1.2"/>
<line x1="506.5" y1="168.51" x2="506.5" y2="171.43" stroke="#555" stroke-width="0.8" />
<line x1="504.5" y1="168.51" x2="508.5" y2="168.51" stroke="#555" stroke-width="0.8" />
<rect x="504.6" y="171.43" width="3.8" height="1.57" fill="#e0e0e0" stroke="#777" stroke-width="1.1"/>
<polyline points="297.36,102.17 298.44,100.13 299.51,98.06 300.58,95.96 301.65,93.85 302.73,91.72 303.8,89.59 304.87,87.46 305.94,85.34 307.01,83.25 308.09,81.18 309.16,79.17 310.23,77.21 311.31,75.32 312.38,73.52 313.45,71.81 314.52,70.22 315.6,68.75 316.67,67.42 317.74,66.24 318.81,65.22 319.88,64.37 320.96,63.69 322.03,63.21 323.1,62.92 324.18,62.82 325.25,62.92 326.32,63.21 327.39,63.69 328.47,64.37 329.54,65.22 330.61,66.24 331.68,67.42 332.75,68.75 333.83,70.22 334.9,71.81 335.97,73.52 337.05,75.32 338.12,77.21 339.19,79.17 340.26,81.18 341.34,83.25 342.41,85.34 343.48,87.46 344.55,89.59 345.62,91.72 346.7,93.85 347.77,95.96 348.84,98.06 349.92,100.13 350.99,102.17 352.06,104.18 353.13,106.14 354.2,108.07 355.28,109.95 356.35,111.79 357.42,113.58 358.5,115.32 359.57,117.02 360.64,118.66 361.71,120.26 362.79,121.8 363.86,123.3 364.93,124.75 366,126.16 367.08,127.51 368.15,128.83 369.22,130.1 370.29,131.32 371.37,132.51 372.44,133.65 373.51,134.76 374.58,135.82 375.66,136.85 376.73,137.85 377.8,138.81 378.87,139.73 379.94,140.63 381.02,141.49 382.09,142.33 383.16,143.13 384.24,143.91 385.31,144.66 386.38,145.39 387.45,146.09 388.53,146.77 389.6,147.42 390.67,148.06 391.74,148.67 392.81,149.26 393.89,149.83 394.96,150.39 396.03,150.92 397.11,151.44 398.18,151.94 399.25,152.43 400.32,152.9 401.39,153.35 402.47,153.8 403.54,154.22 404.61,154.64 405.69,155.04 406.76,155.43 407.83,155.81 408.9,156.17 409.98,156.53 411.05,156.87 412.12,157.21 413.19,157.53 414.26,157.85 415.34,158.16 416.41,158.45 417.48,158.74 418.56,159.02 419.63,159.3 420.7,159.56 421.77,159.82 422.85,160.07 423.92,160.32 424.99,160.56 426.06,160.79 427.13,161.01 428.21,161.23 429.28,161.45 430.35,161.66 431.43,161.86 432.5,162.06 433.57,162.25 434.64,162.44 435.72,162.62 436.79,162.8 437.86,162.97 438.93,163.14 440,163.31 441.08,163.47 442.15,163.63 443.22,163.78 444.3,163.93 445.37,164.08 446.44,164.22 447.51,164.36 448.59,164.5 449.66,164.63 450.73,164.76 451.8,164.89 452.88,165.02 453.95,165.14 455.02,165.26 456.09,165.37 457.17,165.49 458.24,165.6 459.31,165.71 460.38,165.82 461.46,165.92 462.53,166.02 463.6,166.12 464.67,166.22 465.75,166.32 466.82,166.41 467.89,166.5 468.96,166.59 470.04,166.68 471.11,166.77 472.18,166.85 473.25,166.94 474.33,167.02 475.4,167.1 476.47,167.18 477.54,167.25 478.62,167.33 479.69,167.4 480.76,167.48 481.83,167.55 482.91,167.62 483.98,167.69 485.05,167.75 486.12,167.82 487.2,167.88 488.27,167.95 489.34,168.01 490.41,168.07 491.49,168.13 492.56,168.19 493.63,168.25 494.7,168.31 495.78,168.36 496.85,168.42 497.92,168.47 498.99,168.52 500.07,168.58 501.14,168.63 502.21,168.68 503.28,168.73 504.36,168.78 505.43,168.82 506.5,168.87" fill="none" stroke="#222" stroke-width="1.5" stroke-dasharray="6 2.6"/>
<rect x="395" y="22.5" width="115.5" height="24.5" fill="#fff" stroke="#6e6e6e" stroke-width="0.9"/>
<rect x="399.5" y="28.63" width="26.7" height="4.4" fill="#e0e0e0" stroke="#777" stroke-width="1.1"/>
<line x1="399.5" y1="39.65" x2="426.2" y2="39.65" stroke="#111" stroke-width="1.3" stroke-dasharray="6 4" />
<text x="433" y="32.63" font-size="6.15" font-weight="bold" font-style="italic" text-anchor="start" fill="#000" stroke="#000" stroke-width="0.25" >Relative Frequency- Rib</text>
<text x="433" y="41.35" font-size="6.15" font-weight="bold" font-style="italic" text-anchor="start" fill="#000" stroke="#000" stroke-width="0.25" >Lorentzian Fit (R<tspan font-size="3.8" dy="-2.3">2</tspan><tspan dy="2.3">=0.982)</tspan></text>
<line x1="292.1" y1="345.27" x2="515.2" y2="345.27" stroke="#a8a8a8" stroke-width="1" stroke-dasharray="5.8 2.5" />
<line x1="292.1" y1="306.35" x2="515.2" y2="306.35" stroke="#a8a8a8" stroke-width="1" stroke-dasharray="5.8 2.5" />
<line x1="292.1" y1="267.43" x2="515.2" y2="267.43" stroke="#a8a8a8" stroke-width="1" stroke-dasharray="5.8 2.5" />
<rect x="292.1" y="228.5" width="223.1" height="155.7" fill="none" stroke="#6e6e6e" stroke-width="1.0"/>
<line x1="292.1" y1="384.2" x2="295.1" y2="384.2" stroke="#777" stroke-width="0.7" />
<line x1="515.2" y1="384.2" x2="512.2" y2="384.2" stroke="#777" stroke-width="0.7" />
<line x1="292.1" y1="376.41" x2="293.7" y2="376.41" stroke="#777" stroke-width="0.7" />
<line x1="515.2" y1="376.41" x2="513.6" y2="376.41" stroke="#777" stroke-width="0.7" />
<line x1="292.1" y1="368.63" x2="293.7" y2="368.63" stroke="#777" stroke-width="0.7" />
<line x1="515.2" y1="368.63" x2="513.6" y2="368.63" stroke="#777" stroke-width="0.7" />
<line x1="292.1" y1="360.84" x2="293.7" y2="360.84" stroke="#777" stroke-width="0.7" />
<line x1="515.2" y1="360.84" x2="513.6" y2="360.84" stroke="#777" stroke-width="0.7" />
<line x1="292.1" y1="353.06" x2="293.7" y2="353.06" stroke="#777" stroke-width="0.7" />
<line x1="515.2" y1="353.06" x2="513.6" y2="353.06" stroke="#777" stroke-width="0.7" />
<line x1="292.1" y1="345.27" x2="295.1" y2="345.27" stroke="#777" stroke-width="0.7" />
<line x1="515.2" y1="345.27" x2="512.2" y2="345.27" stroke="#777" stroke-width="0.7" />
<line x1="292.1" y1="337.49" x2="293.7" y2="337.49" stroke="#777" stroke-width="0.7" />
<line x1="515.2" y1="337.49" x2="513.6" y2="337.49" stroke="#777" stroke-width="0.7" />
<line x1="292.1" y1="329.7" x2="293.7" y2="329.7" stroke="#777" stroke-width="0.7" />
<line x1="515.2" y1="329.7" x2="513.6" y2="329.7" stroke="#777" stroke-width="0.7" />
<line x1="292.1" y1="321.92" x2="293.7" y2="321.92" stroke="#777" stroke-width="0.7" />
<line x1="515.2" y1="321.92" x2="513.6" y2="321.92" stroke="#777" stroke-width="0.7" />
<line x1="292.1" y1="314.13" x2="293.7" y2="314.13" stroke="#777" stroke-width="0.7" />
<line x1="515.2" y1="314.13" x2="513.6" y2="314.13" stroke="#777" stroke-width="0.7" />
<line x1="292.1" y1="306.35" x2="295.1" y2="306.35" stroke="#777" stroke-width="0.7" />
<line x1="515.2" y1="306.35" x2="512.2" y2="306.35" stroke="#777" stroke-width="0.7" />
<line x1="292.1" y1="298.56" x2="293.7" y2="298.56" stroke="#777" stroke-width="0.7" />
<line x1="515.2" y1="298.56" x2="513.6" y2="298.56" stroke="#777" stroke-width="0.7" />
<line x1="292.1" y1="290.78" x2="293.7" y2="290.78" stroke="#777" stroke-width="0.7" />
<line x1="515.2" y1="290.78" x2="513.6" y2="290.78" stroke="#777" stroke-width="0.7" />
<line x1="292.1" y1="283" x2="293.7" y2="283" stroke="#777" stroke-width="0.7" />
<line x1="515.2" y1="283" x2="513.6" y2="283" stroke="#777" stroke-width="0.7" />
<line x1="292.1" y1="275.21" x2="293.7" y2="275.21" stroke="#777" stroke-width="0.7" />
<line x1="515.2" y1="275.21" x2="513.6" y2="275.21" stroke="#777" stroke-width="0.7" />
<line x1="292.1" y1="267.43" x2="295.1" y2="267.43" stroke="#777" stroke-width="0.7" />
<line x1="515.2" y1="267.43" x2="512.2" y2="267.43" stroke="#777" stroke-width="0.7" />
<line x1="292.1" y1="259.64" x2="293.7" y2="259.64" stroke="#777" stroke-width="0.7" />
<line x1="515.2" y1="259.64" x2="513.6" y2="259.64" stroke="#777" stroke-width="0.7" />
<line x1="292.1" y1="251.85" x2="293.7" y2="251.85" stroke="#777" stroke-width="0.7" />
<line x1="515.2" y1="251.85" x2="513.6" y2="251.85" stroke="#777" stroke-width="0.7" />
<line x1="292.1" y1="244.07" x2="293.7" y2="244.07" stroke="#777" stroke-width="0.7" />
<line x1="515.2" y1="244.07" x2="513.6" y2="244.07" stroke="#777" stroke-width="0.7" />
<line x1="292.1" y1="236.28" x2="293.7" y2="236.28" stroke="#777" stroke-width="0.7" />
<line x1="515.2" y1="236.28" x2="513.6" y2="236.28" stroke="#777" stroke-width="0.7" />
<line x1="292.1" y1="228.5" x2="295.1" y2="228.5" stroke="#777" stroke-width="0.7" />
<line x1="515.2" y1="228.5" x2="512.2" y2="228.5" stroke="#777" stroke-width="0.7" />
<line x1="292.1" y1="384.2" x2="292.1" y2="381.6" stroke="#777" stroke-width="0.7" />
<line x1="292.1" y1="228.5" x2="292.1" y2="231.1" stroke="#777" stroke-width="0.7" />
<line x1="302.72" y1="384.2" x2="302.72" y2="382.6" stroke="#777" stroke-width="0.7" />
<line x1="302.72" y1="228.5" x2="302.72" y2="230.1" stroke="#777" stroke-width="0.7" />
<line x1="313.34" y1="384.2" x2="313.34" y2="381.6" stroke="#777" stroke-width="0.7" />
<line x1="313.34" y1="228.5" x2="313.34" y2="231.1" stroke="#777" stroke-width="0.7" />
<line x1="323.96" y1="384.2" x2="323.96" y2="382.6" stroke="#777" stroke-width="0.7" />
<line x1="323.96" y1="228.5" x2="323.96" y2="230.1" stroke="#777" stroke-width="0.7" />
<line x1="334.58" y1="384.2" x2="334.58" y2="381.6" stroke="#777" stroke-width="0.7" />
<line x1="334.58" y1="228.5" x2="334.58" y2="231.1" stroke="#777" stroke-width="0.7" />
<line x1="345.2" y1="384.2" x2="345.2" y2="382.6" stroke="#777" stroke-width="0.7" />
<line x1="345.2" y1="228.5" x2="345.2" y2="230.1" stroke="#777" stroke-width="0.7" />
<line x1="355.82" y1="384.2" x2="355.82" y2="381.6" stroke="#777" stroke-width="0.7" />
<line x1="355.82" y1="228.5" x2="355.82" y2="231.1" stroke="#777" stroke-width="0.7" />
<line x1="366.44" y1="384.2" x2="366.44" y2="382.6" stroke="#777" stroke-width="0.7" />
<line x1="366.44" y1="228.5" x2="366.44" y2="230.1" stroke="#777" stroke-width="0.7" />
<line x1="377.06" y1="384.2" x2="377.06" y2="381.6" stroke="#777" stroke-width="0.7" />
<line x1="377.06" y1="228.5" x2="377.06" y2="231.1" stroke="#777" stroke-width="0.7" />
<line x1="387.68" y1="384.2" x2="387.68" y2="382.6" stroke="#777" stroke-width="0.7" />
<line x1="387.68" y1="228.5" x2="387.68" y2="230.1" stroke="#777" stroke-width="0.7" />
<line x1="398.3" y1="384.2" x2="398.3" y2="381.6" stroke="#777" stroke-width="0.7" />
<line x1="398.3" y1="228.5" x2="398.3" y2="231.1" stroke="#777" stroke-width="0.7" />
<line x1="408.92" y1="384.2" x2="408.92" y2="382.6" stroke="#777" stroke-width="0.7" />
<line x1="408.92" y1="228.5" x2="408.92" y2="230.1" stroke="#777" stroke-width="0.7" />
<line x1="419.54" y1="384.2" x2="419.54" y2="381.6" stroke="#777" stroke-width="0.7" />
<line x1="419.54" y1="228.5" x2="419.54" y2="231.1" stroke="#777" stroke-width="0.7" />
<line x1="430.16" y1="384.2" x2="430.16" y2="382.6" stroke="#777" stroke-width="0.7" />
<line x1="430.16" y1="228.5" x2="430.16" y2="230.1" stroke="#777" stroke-width="0.7" />
<line x1="440.78" y1="384.2" x2="440.78" y2="381.6" stroke="#777" stroke-width="0.7" />
<line x1="440.78" y1="228.5" x2="440.78" y2="231.1" stroke="#777" stroke-width="0.7" />
<line x1="451.4" y1="384.2" x2="451.4" y2="382.6" stroke="#777" stroke-width="0.7" />
<line x1="451.4" y1="228.5" x2="451.4" y2="230.1" stroke="#777" stroke-width="0.7" />
<line x1="462.02" y1="384.2" x2="462.02" y2="381.6" stroke="#777" stroke-width="0.7" />
<line x1="462.02" y1="228.5" x2="462.02" y2="231.1" stroke="#777" stroke-width="0.7" />
<line x1="472.64" y1="384.2" x2="472.64" y2="382.6" stroke="#777" stroke-width="0.7" />
<line x1="472.64" y1="228.5" x2="472.64" y2="230.1" stroke="#777" stroke-width="0.7" />
<line x1="483.26" y1="384.2" x2="483.26" y2="381.6" stroke="#777" stroke-width="0.7" />
<line x1="483.26" y1="228.5" x2="483.26" y2="231.1" stroke="#777" stroke-width="0.7" />
<line x1="493.88" y1="384.2" x2="493.88" y2="382.6" stroke="#777" stroke-width="0.7" />
<line x1="493.88" y1="228.5" x2="493.88" y2="230.1" stroke="#777" stroke-width="0.7" />
<line x1="504.5" y1="384.2" x2="504.5" y2="381.6" stroke="#777" stroke-width="0.7" />
<line x1="504.5" y1="228.5" x2="504.5" y2="231.1" stroke="#777" stroke-width="0.7" />
<text x="289.1" y="386.4" font-size="6.3" font-weight="normal" font-style="normal" text-anchor="end" fill="#222" stroke="#222" stroke-width="0.25" >0.00</text>
<text x="289.1" y="347.47" font-size="6.3" font-weight="normal" font-style="normal" text-anchor="end" fill="#222" stroke="#222" stroke-width="0.25" >0.05</text>
<text x="289.1" y="308.55" font-size="6.3" font-weight="normal" font-style="normal" text-anchor="end" fill="#222" stroke="#222" stroke-width="0.25" >0.10</text>
<text x="289.1" y="269.62" font-size="6.3" font-weight="normal" font-style="normal" text-anchor="end" fill="#222" stroke="#222" stroke-width="0.25" >0.15</text>
<text x="289.1" y="230.7" font-size="6.3" font-weight="normal" font-style="normal" text-anchor="end" fill="#222" stroke="#222" stroke-width="0.25" >0.20</text>
<text x="292.1" y="392.5" font-size="6.1" font-weight="normal" font-style="normal" text-anchor="middle" fill="#222" stroke="#222" stroke-width="0.25" >0</text>
<text x="313.34" y="392.5" font-size="6.1" font-weight="normal" font-style="normal" text-anchor="middle" fill="#222" stroke="#222" stroke-width="0.25" >100</text>
<text x="334.58" y="392.5" font-size="6.1" font-weight="normal" font-style="normal" text-anchor="middle" fill="#222" stroke="#222" stroke-width="0.25" >200</text>
<text x="355.82" y="392.5" font-size="6.1" font-weight="normal" font-style="normal" text-anchor="middle" fill="#222" stroke="#222" stroke-width="0.25" >300</text>
<text x="377.06" y="392.5" font-size="6.1" font-weight="normal" font-style="normal" text-anchor="middle" fill="#222" stroke="#222" stroke-width="0.25" >400</text>
<text x="398.3" y="392.5" font-size="6.1" font-weight="normal" font-style="normal" text-anchor="middle" fill="#222" stroke="#222" stroke-width="0.25" >500</text>
<text x="419.54" y="392.5" font-size="6.1" font-weight="normal" font-style="normal" text-anchor="middle" fill="#222" stroke="#222" stroke-width="0.25" >600</text>
<text x="440.78" y="392.5" font-size="6.1" font-weight="normal" font-style="normal" text-anchor="middle" fill="#222" stroke="#222" stroke-width="0.25" >700</text>
<text x="462.02" y="392.5" font-size="6.1" font-weight="normal" font-style="normal" text-anchor="middle" fill="#222" stroke="#222" stroke-width="0.25" >800</text>
<text x="483.26" y="392.5" font-size="6.1" font-weight="normal" font-style="normal" text-anchor="middle" fill="#222" stroke="#222" stroke-width="0.25" >900</text>
<text x="504.5" y="392.5" font-size="6.1" font-weight="normal" font-style="normal" text-anchor="middle" fill="#222" stroke="#222" stroke-width="0.25" >1000</text>
<text x="374.8" y="223.5" font-size="8.6" font-weight="bold" font-style="normal" text-anchor="start" fill="#000" stroke="#000" stroke-width="0.25" >L1 Vertebrae</text>
<text x="294.9" y="242.4" font-size="13.6" font-weight="bold" font-style="normal" text-anchor="start" fill="#000" stroke="#000" stroke-width="0.25" >E</text>
<text x="315" y="406.5" font-size="7.5" font-weight="bold" font-style="normal" text-anchor="start" fill="#000" stroke="#000" stroke-width="0.25" >Hematopoetic CD34+ cell to blood vessel distance</text>
<text transform="translate(269.1,306.4) rotate(-90)" font-size="7.3" font-weight="bold" text-anchor="middle">Relative Frequency</text>
<line x1="297.41" y1="313.43" x2="297.41" y2="321.3" stroke="#555" stroke-width="0.8" />
<line x1="295.41" y1="313.43" x2="299.41" y2="313.43" stroke="#555" stroke-width="0.8" />
<rect x="295.51" y="321.3" width="3.8" height="62.9" fill="#e0e0e0" stroke="#777" stroke-width="1.2"/>
<line x1="308.03" y1="315.69" x2="308.03" y2="320.13" stroke="#555" stroke-width="0.8" />
<line x1="306.03" y1="315.69" x2="310.03" y2="315.69" stroke="#555" stroke-width="0.8" />
<rect x="306.13" y="320.13" width="3.8" height="64.07" fill="#e0e0e0" stroke="#777" stroke-width="1.2"/>
<line x1="318.65" y1="289.38" x2="318.65" y2="298.56" stroke="#555" stroke-width="0.8" />
<line x1="316.65" y1="289.38" x2="320.65" y2="289.38" stroke="#555" stroke-width="0.8" />
<rect x="316.75" y="298.56" width="3.8" height="85.63" fill="#e0e0e0" stroke="#777" stroke-width="1.2"/>
<line x1="329.27" y1="275.6" x2="329.27" y2="287.51" stroke="#555" stroke-width="0.8" />
<line x1="327.27" y1="275.6" x2="331.27" y2="275.6" stroke="#555" stroke-width="0.8" />
<rect x="327.37" y="287.51" width="3.8" height="96.69" fill="#e0e0e0" stroke="#777" stroke-width="1.2"/>
<line x1="339.89" y1="299.5" x2="339.89" y2="307.75" stroke="#555" stroke-width="0.8" />
<line x1="337.89" y1="299.5" x2="341.89" y2="299.5" stroke="#555" stroke-width="0.8" />
<rect x="337.99" y="307.75" width="3.8" height="76.45" fill="#e0e0e0" stroke="#777" stroke-width="1.2"/>
<line x1="350.51" y1="299.03" x2="350.51" y2="305.42" stroke="#555" stroke-width="0.8" />
<line x1="348.51" y1="299.03" x2="352.51" y2="299.03" stroke="#555" stroke-width="0.8" />
<rect x="348.61" y="305.42" width="3.8" height="78.78" fill="#e0e0e0" stroke="#777" stroke-width="1.2"/>
<line x1="361.13" y1="320.36" x2="361.13" y2="326.12" stroke="#555" stroke-width="0.8" />
<line x1="359.13" y1="320.36" x2="363.13" y2="320.36" stroke="#555" stroke-width="0.8" />
<rect x="359.23" y="326.12" width="3.8" height="58.08" fill="#e0e0e0" stroke="#777" stroke-width="1.2"/>
<line x1="371.75" y1="319.66" x2="371.75" y2="327.68" stroke="#555" stroke-width="0.8" />
<line x1="369.75" y1="319.66" x2="373.75" y2="319.66" stroke="#555" stroke-width="0.8" />
<rect x="369.85" y="327.68" width="3.8" height="56.52" fill="#e0e0e0" stroke="#777" stroke-width="1.2"/>
<line x1="382.37" y1="318.49" x2="382.37" y2="329.32" stroke="#555" stroke-width="0.8" />
<line x1="380.37" y1="318.49" x2="384.37" y2="318.49" stroke="#555" stroke-width="0.8" />
<rect x="380.47" y="329.32" width="3.8" height="54.88" fill="#e0e0e0" stroke="#777" stroke-width="1.2"/>
<line x1="392.99" y1="341.93" x2="392.99" y2="350.65" stroke="#555" stroke-width="0.8" />
<line x1="390.99" y1="341.93" x2="394.99" y2="341.93" stroke="#555" stroke-width="0.8" />
<rect x="391.09" y="350.65" width="3.8" height="33.55" fill="#e0e0e0" stroke="#777" stroke-width="1.2"/>
<line x1="403.61" y1="353.06" x2="403.61" y2="358.74" stroke="#555" stroke-width="0.8" />
<line x1="401.61" y1="353.06" x2="405.61" y2="353.06" stroke="#555" stroke-width="0.8" />
<rect x="401.71" y="358.74" width="3.8" height="25.46" fill="#e0e0e0" stroke="#777" stroke-width="1.2"/>
<line x1="414.23" y1="356.95" x2="414.23" y2="361.93" stroke="#555" stroke-width="0.8" />
<line x1="412.23" y1="356.95" x2="416.23" y2="356.95" stroke="#555" stroke-width="0.8" />
<rect x="412.33" y="361.93" width="3.8" height="22.27" fill="#e0e0e0" stroke="#777" stroke-width="1.2"/>
<line x1="424.85" y1="368.63" x2="424.85" y2="371.9" stroke="#555" stroke-width="0.8" />
<line x1="422.85" y1="368.63" x2="426.85" y2="368.63" stroke="#555" stroke-width="0.8" />
<rect x="422.95" y="371.9" width="3.8" height="12.3" fill="#e0e0e0" stroke="#777" stroke-width="1.2"/>
<line x1="435.47" y1="372.52" x2="435.47" y2="375.4" stroke="#555" stroke-width="0.8" />
<line x1="433.47" y1="372.52" x2="437.47" y2="372.52" stroke="#555" stroke-width="0.8" />
<rect x="433.57" y="375.4" width="3.8" height="8.8" fill="#e0e0e0" stroke="#777" stroke-width="1.2"/>
<line x1="446.09" y1="374.08" x2="446.09" y2="376.1" stroke="#555" stroke-width="0.8" />
<line x1="444.09" y1="374.08" x2="448.09" y2="374.08" stroke="#555" stroke-width="0.8" />
<rect x="444.19" y="376.1" width="3.8" height="8.1" fill="#e0e0e0" stroke="#777" stroke-width="1.2"/>
<line x1="456.71" y1="376.41" x2="456.71" y2="379.14" stroke="#555" stroke-width="0.8" />
<line x1="454.71" y1="376.41" x2="458.71" y2="376.41" stroke="#555" stroke-width="0.8" />
<rect x="454.81" y="379.14" width="3.8" height="5.06" fill="#e0e0e0" stroke="#777" stroke-width="1.2"/>
<line x1="467.33" y1="373.3" x2="467.33" y2="375.4" stroke="#555" stroke-width="0.8" />
<line x1="465.33" y1="373.3" x2="469.33" y2="373.3" stroke="#555" stroke-width="0.8" />
<rect x="465.43" y="375.4" width="3.8" height="8.8" fill="#e0e0e0" stroke="#777" stroke-width="1.2"/>
<line x1="477.95" y1="377.19" x2="477.95" y2="378.91" stroke="#555" stroke-width="0.8" />
<line x1="475.95" y1="377.19" x2="479.95" y2="377.19" stroke="#555" stroke-width="0.8" />
<rect x="476.05" y="378.91" width="3.8" height="5.29" fill="#e0e0e0" stroke="#777" stroke-width="1.2"/>
<line x1="488.57" y1="380.31" x2="488.57" y2="381.16" stroke="#555" stroke-width="0.8" />
<line x1="486.57" y1="380.31" x2="490.57" y2="380.31" stroke="#555" stroke-width="0.8" />
<rect x="486.67" y="381.16" width="3.8" height="3.04" fill="#e0e0e0" stroke="#777" stroke-width="1.2"/>
<line x1="499.19" y1="380.31" x2="499.19" y2="381.16" stroke="#555" stroke-width="0.8" />
<line x1="497.19" y1="380.31" x2="501.19" y2="380.31" stroke="#555" stroke-width="0.8" />
<rect x="497.29" y="381.16" width="3.8" height="3.04" fill="#e0e0e0" stroke="#777" stroke-width="1.2"/>
<line x1="504.5" y1="374.08" x2="504.5" y2="378.75" stroke="#555" stroke-width="0.8" />
<line x1="502.5" y1="374.08" x2="506.5" y2="374.08" stroke="#555" stroke-width="0.8" />
<rect x="502.6" y="378.75" width="3.8" height="5.45" fill="#e0e0e0" stroke="#777" stroke-width="1.1"/>
<polyline points="297.41,326.15 298.47,324.85 299.53,323.54 300.6,322.21 301.66,320.88 302.72,319.53 303.78,318.18 304.84,316.82 305.91,315.46 306.97,314.11 308.03,312.76 309.09,311.42 310.15,310.1 311.22,308.79 312.28,307.51 313.34,306.25 314.4,305.03 315.46,303.84 316.53,302.7 317.59,301.61 318.65,300.56 319.71,299.58 320.77,298.66 321.84,297.81 322.9,297.03 323.96,296.33 325.02,295.72 326.08,295.18 327.15,294.74 328.21,294.39 329.27,294.13 330.33,293.96 331.39,293.9 332.46,293.92 333.52,294.05 334.58,294.27 335.64,294.59 336.7,295 337.77,295.49 338.83,296.08 339.89,296.75 340.95,297.49 342.01,298.31 343.08,299.21 344.14,300.16 345.2,301.18 346.26,302.26 347.32,303.38 348.39,304.55 349.45,305.76 350.51,307 351.57,308.27 352.63,309.57 353.7,310.89 354.76,312.22 355.82,313.57 356.88,314.92 357.94,316.28 359.01,317.64 360.07,318.99 361.13,320.34 362.19,321.68 363.25,323.01 364.32,324.33 365.38,325.63 366.44,326.92 367.5,328.18 368.56,329.43 369.63,330.66 370.69,331.87 371.75,333.05 372.81,334.22 373.87,335.35 374.94,336.47 376,337.56 377.06,338.63 378.12,339.67 379.18,340.69 380.25,341.68 381.31,342.65 382.37,343.6 383.43,344.52 384.49,345.42 385.56,346.3 386.62,347.16 387.68,347.99 388.74,348.8 389.8,349.59 390.87,350.36 391.93,351.11 392.99,351.83 394.05,352.54 395.11,353.23 396.18,353.9 397.24,354.56 398.3,355.19 399.36,355.81 400.42,356.41 401.49,357 402.55,357.57 403.61,358.12 404.67,358.66 405.73,359.19 406.8,359.7 407.86,360.2 408.92,360.68 409.98,361.15 411.04,361.61 412.11,362.06 413.17,362.49 414.23,362.92 415.29,363.33 416.35,363.73 417.42,364.12 418.48,364.51 419.54,364.88 420.6,365.24 421.66,365.59 422.73,365.94 423.79,366.27 424.85,366.6 425.91,366.92 426.97,367.23 428.04,367.53 429.1,367.83 430.16,368.12 431.22,368.4 432.28,368.67 433.35,368.94 434.41,369.2 435.47,369.46 436.53,369.71 437.59,369.95 438.66,370.19 439.72,370.42 440.78,370.65 441.84,370.87 442.9,371.08 443.97,371.3 445.03,371.5 446.09,371.7 447.15,371.9 448.21,372.09 449.28,372.28 450.34,372.47 451.4,372.65 452.46,372.83 453.52,373 454.59,373.17 455.65,373.33 456.71,373.49 457.77,373.65 458.83,373.81 459.9,373.96 460.96,374.11 462.02,374.25 463.08,374.4 464.14,374.54 465.21,374.67 466.27,374.81 467.33,374.94 468.39,375.07 469.45,375.19 470.52,375.32 471.58,375.44 472.64,375.56 473.7,375.67 474.76,375.79 475.83,375.9 476.89,376.01 477.95,376.12 479.01,376.22 480.07,376.33 481.14,376.43 482.2,376.53 483.26,376.63 484.32,376.72 485.38,376.82 486.45,376.91 487.51,377 488.57,377.09 489.63,377.18 490.69,377.27 491.76,377.35 492.82,377.43 493.88,377.52 494.94,377.6 496,377.68 497.07,377.75 498.13,377.83 499.19,377.9 500.25,377.98 501.31,378.05 502.38,378.12 503.44,378.19 504.5,378.26" fill="none" stroke="#222" stroke-width="1.5" stroke-dasharray="6 2.6"/>
<rect x="390.8" y="234.2" width="117.5" height="23.7" fill="#fff" stroke="#6e6e6e" stroke-width="0.9"/>
<rect x="395.3" y="240.06" width="26.7" height="4.4" fill="#e0e0e0" stroke="#777" stroke-width="1.1"/>
<line x1="395.3" y1="250.79" x2="422" y2="250.79" stroke="#111" stroke-width="1.3" stroke-dasharray="6 4" />
<text x="430.2" y="244.06" font-size="6.15" font-weight="bold" font-style="italic" text-anchor="start" fill="#000" stroke="#000" stroke-width="0.25" >Relative Frequency- L1</text>
<text x="430.2" y="252.49" font-size="6.15" font-weight="bold" font-style="italic" text-anchor="start" fill="#000" stroke="#000" stroke-width="0.25" >Lorentzian Fit (R<tspan font-size="3.8" dy="-2.3">2</tspan><tspan dy="2.3">=0.967)</tspan></text>
<line x1="292" y1="552.67" x2="516.2" y2="552.67" stroke="#b4b4b4" stroke-width="1" stroke-dasharray="5.8 2.5" />
<line x1="292" y1="513.55" x2="516.2" y2="513.55" stroke="#b4b4b4" stroke-width="1" stroke-dasharray="5.8 2.5" />
<line x1="292" y1="474.43" x2="516.2" y2="474.43" stroke="#b4b4b4" stroke-width="1" stroke-dasharray="5.8 2.5" />
<rect x="292" y="435.3" width="224.2" height="156.5" fill="none" stroke="#6e6e6e" stroke-width="1.0"/>
<line x1="292" y1="591.8" x2="295" y2="591.8" stroke="#777" stroke-width="0.7" />
<line x1="516.2" y1="591.8" x2="513.2" y2="591.8" stroke="#777" stroke-width="0.7" />
<line x1="292" y1="583.97" x2="293.6" y2="583.97" stroke="#777" stroke-width="0.7" />
<line x1="516.2" y1="583.97" x2="514.6" y2="583.97" stroke="#777" stroke-width="0.7" />
<line x1="292" y1="576.15" x2="293.6" y2="576.15" stroke="#777" stroke-width="0.7" />
<line x1="516.2" y1="576.15" x2="514.6" y2="576.15" stroke="#777" stroke-width="0.7" />
<line x1="292" y1="568.32" x2="293.6" y2="568.32" stroke="#777" stroke-width="0.7" />
<line x1="516.2" y1="568.32" x2="514.6" y2="568.32" stroke="#777" stroke-width="0.7" />
<line x1="292" y1="560.5" x2="293.6" y2="560.5" stroke="#777" stroke-width="0.7" />
<line x1="516.2" y1="560.5" x2="514.6" y2="560.5" stroke="#777" stroke-width="0.7" />
<line x1="292" y1="552.67" x2="295" y2="552.67" stroke="#777" stroke-width="0.7" />
<line x1="516.2" y1="552.67" x2="513.2" y2="552.67" stroke="#777" stroke-width="0.7" />
<line x1="292" y1="544.85" x2="293.6" y2="544.85" stroke="#777" stroke-width="0.7" />
<line x1="516.2" y1="544.85" x2="514.6" y2="544.85" stroke="#777" stroke-width="0.7" />
<line x1="292" y1="537.02" x2="293.6" y2="537.02" stroke="#777" stroke-width="0.7" />
<line x1="516.2" y1="537.02" x2="514.6" y2="537.02" stroke="#777" stroke-width="0.7" />
<line x1="292" y1="529.2" x2="293.6" y2="529.2" stroke="#777" stroke-width="0.7" />
<line x1="516.2" y1="529.2" x2="514.6" y2="529.2" stroke="#777" stroke-width="0.7" />
<line x1="292" y1="521.38" x2="293.6" y2="521.38" stroke="#777" stroke-width="0.7" />
<line x1="516.2" y1="521.38" x2="514.6" y2="521.38" stroke="#777" stroke-width="0.7" />
<line x1="292" y1="513.55" x2="295" y2="513.55" stroke="#777" stroke-width="0.7" />
<line x1="516.2" y1="513.55" x2="513.2" y2="513.55" stroke="#777" stroke-width="0.7" />
<line x1="292" y1="505.73" x2="293.6" y2="505.73" stroke="#777" stroke-width="0.7" />
<line x1="516.2" y1="505.73" x2="514.6" y2="505.73" stroke="#777" stroke-width="0.7" />
<line x1="292" y1="497.9" x2="293.6" y2="497.9" stroke="#777" stroke-width="0.7" />
<line x1="516.2" y1="497.9" x2="514.6" y2="497.9" stroke="#777" stroke-width="0.7" />
<line x1="292" y1="490.07" x2="293.6" y2="490.07" stroke="#777" stroke-width="0.7" />
<line x1="516.2" y1="490.07" x2="514.6" y2="490.07" stroke="#777" stroke-width="0.7" />
<line x1="292" y1="482.25" x2="293.6" y2="482.25" stroke="#777" stroke-width="0.7" />
<line x1="516.2" y1="482.25" x2="514.6" y2="482.25" stroke="#777" stroke-width="0.7" />
<line x1="292" y1="474.43" x2="295" y2="474.43" stroke="#777" stroke-width="0.7" />
<line x1="516.2" y1="474.43" x2="513.2" y2="474.43" stroke="#777" stroke-width="0.7" />
<line x1="292" y1="466.6" x2="293.6" y2="466.6" stroke="#777" stroke-width="0.7" />
<line x1="516.2" y1="466.6" x2="514.6" y2="466.6" stroke="#777" stroke-width="0.7" />
<line x1="292" y1="458.77" x2="293.6" y2="458.77" stroke="#777" stroke-width="0.7" />
<line x1="516.2" y1="458.77" x2="514.6" y2="458.77" stroke="#777" stroke-width="0.7" />
<line x1="292" y1="450.95" x2="293.6" y2="450.95" stroke="#777" stroke-width="0.7" />
<line x1="516.2" y1="450.95" x2="514.6" y2="450.95" stroke="#777" stroke-width="0.7" />
<line x1="292" y1="443.12" x2="293.6" y2="443.12" stroke="#777" stroke-width="0.7" />
<line x1="516.2" y1="443.12" x2="514.6" y2="443.12" stroke="#777" stroke-width="0.7" />
<line x1="292" y1="435.3" x2="295" y2="435.3" stroke="#777" stroke-width="0.7" />
<line x1="516.2" y1="435.3" x2="513.2" y2="435.3" stroke="#777" stroke-width="0.7" />
<line x1="292" y1="591.8" x2="292" y2="589.2" stroke="#777" stroke-width="0.7" />
<line x1="292" y1="435.3" x2="292" y2="437.9" stroke="#777" stroke-width="0.7" />
<line x1="302.64" y1="591.8" x2="302.64" y2="590.2" stroke="#777" stroke-width="0.7" />
<line x1="302.64" y1="435.3" x2="302.64" y2="436.9" stroke="#777" stroke-width="0.7" />
<line x1="313.28" y1="591.8" x2="313.28" y2="589.2" stroke="#777" stroke-width="0.7" />
<line x1="313.28" y1="435.3" x2="313.28" y2="437.9" stroke="#777" stroke-width="0.7" />
<line x1="323.92" y1="591.8" x2="323.92" y2="590.2" stroke="#777" stroke-width="0.7" />
<line x1="323.92" y1="435.3" x2="323.92" y2="436.9" stroke="#777" stroke-width="0.7" />
<line x1="334.56" y1="591.8" x2="334.56" y2="589.2" stroke="#777" stroke-width="0.7" />
<line x1="334.56" y1="435.3" x2="334.56" y2="437.9" stroke="#777" stroke-width="0.7" />
<line x1="345.2" y1="591.8" x2="345.2" y2="590.2" stroke="#777" stroke-width="0.7" />
<line x1="345.2" y1="435.3" x2="345.2" y2="436.9" stroke="#777" stroke-width="0.7" />
<line x1="355.84" y1="591.8" x2="355.84" y2="589.2" stroke="#777" stroke-width="0.7" />
<line x1="355.84" y1="435.3" x2="355.84" y2="437.9" stroke="#777" stroke-width="0.7" />
<line x1="366.48" y1="591.8" x2="366.48" y2="590.2" stroke="#777" stroke-width="0.7" />
<line x1="366.48" y1="435.3" x2="366.48" y2="436.9" stroke="#777" stroke-width="0.7" />
<line x1="377.12" y1="591.8" x2="377.12" y2="589.2" stroke="#777" stroke-width="0.7" />
<line x1="377.12" y1="435.3" x2="377.12" y2="437.9" stroke="#777" stroke-width="0.7" />
<line x1="387.76" y1="591.8" x2="387.76" y2="590.2" stroke="#777" stroke-width="0.7" />
<line x1="387.76" y1="435.3" x2="387.76" y2="436.9" stroke="#777" stroke-width="0.7" />
<line x1="398.4" y1="591.8" x2="398.4" y2="589.2" stroke="#777" stroke-width="0.7" />
<line x1="398.4" y1="435.3" x2="398.4" y2="437.9" stroke="#777" stroke-width="0.7" />
<line x1="409.04" y1="591.8" x2="409.04" y2="590.2" stroke="#777" stroke-width="0.7" />
<line x1="409.04" y1="435.3" x2="409.04" y2="436.9" stroke="#777" stroke-width="0.7" />
<line x1="419.68" y1="591.8" x2="419.68" y2="589.2" stroke="#777" stroke-width="0.7" />
<line x1="419.68" y1="435.3" x2="419.68" y2="437.9" stroke="#777" stroke-width="0.7" />
<line x1="430.32" y1="591.8" x2="430.32" y2="590.2" stroke="#777" stroke-width="0.7" />
<line x1="430.32" y1="435.3" x2="430.32" y2="436.9" stroke="#777" stroke-width="0.7" />
<line x1="440.96" y1="591.8" x2="440.96" y2="589.2" stroke="#777" stroke-width="0.7" />
<line x1="440.96" y1="435.3" x2="440.96" y2="437.9" stroke="#777" stroke-width="0.7" />
<line x1="451.6" y1="591.8" x2="451.6" y2="590.2" stroke="#777" stroke-width="0.7" />
<line x1="451.6" y1="435.3" x2="451.6" y2="436.9" stroke="#777" stroke-width="0.7" />
<line x1="462.24" y1="591.8" x2="462.24" y2="589.2" stroke="#777" stroke-width="0.7" />
<line x1="462.24" y1="435.3" x2="462.24" y2="437.9" stroke="#777" stroke-width="0.7" />
<line x1="472.88" y1="591.8" x2="472.88" y2="590.2" stroke="#777" stroke-width="0.7" />
<line x1="472.88" y1="435.3" x2="472.88" y2="436.9" stroke="#777" stroke-width="0.7" />
<line x1="483.52" y1="591.8" x2="483.52" y2="589.2" stroke="#777" stroke-width="0.7" />
<line x1="483.52" y1="435.3" x2="483.52" y2="437.9" stroke="#777" stroke-width="0.7" />
<line x1="494.16" y1="591.8" x2="494.16" y2="590.2" stroke="#777" stroke-width="0.7" />
<line x1="494.16" y1="435.3" x2="494.16" y2="436.9" stroke="#777" stroke-width="0.7" />
<line x1="504.8" y1="591.8" x2="504.8" y2="589.2" stroke="#777" stroke-width="0.7" />
<line x1="504.8" y1="435.3" x2="504.8" y2="437.9" stroke="#777" stroke-width="0.7" />
<text x="289" y="594" font-size="6.3" font-weight="normal" font-style="normal" text-anchor="end" fill="#222" stroke="#222" stroke-width="0.25" >0.00</text>
<text x="289" y="554.88" font-size="6.3" font-weight="normal" font-style="normal" text-anchor="end" fill="#222" stroke="#222" stroke-width="0.25" >0.05</text>
<text x="289" y="515.75" font-size="6.3" font-weight="normal" font-style="normal" text-anchor="end" fill="#222" stroke="#222" stroke-width="0.25" >0.10</text>
<text x="289" y="476.62" font-size="6.3" font-weight="normal" font-style="normal" text-anchor="end" fill="#222" stroke="#222" stroke-width="0.25" >0.15</text>
<text x="289" y="437.5" font-size="6.3" font-weight="normal" font-style="normal" text-anchor="end" fill="#222" stroke="#222" stroke-width="0.25" >0.20</text>
<text x="292" y="600" font-size="6.1" font-weight="normal" font-style="normal" text-anchor="middle" fill="#222" stroke="#222" stroke-width="0.25" >0</text>
<text x="313.28" y="600" font-size="6.1" font-weight="normal" font-style="normal" text-anchor="middle" fill="#222" stroke="#222" stroke-width="0.25" >100</text>
<text x="334.56" y="600" font-size="6.1" font-weight="normal" font-style="normal" text-anchor="middle" fill="#222" stroke="#222" stroke-width="0.25" >200</text>
<text x="355.84" y="600" font-size="6.1" font-weight="normal" font-style="normal" text-anchor="middle" fill="#222" stroke="#222" stroke-width="0.25" >300</text>
<text x="377.12" y="600" font-size="6.1" font-weight="normal" font-style="normal" text-anchor="middle" fill="#222" stroke="#222" stroke-width="0.25" >400</text>
<text x="398.4" y="600" font-size="6.1" font-weight="normal" font-style="normal" text-anchor="middle" fill="#222" stroke="#222" stroke-width="0.25" >500</text>
<text x="419.68" y="600" font-size="6.1" font-weight="normal" font-style="normal" text-anchor="middle" fill="#222" stroke="#222" stroke-width="0.25" >600</text>
<text x="440.96" y="600" font-size="6.1" font-weight="normal" font-style="normal" text-anchor="middle" fill="#222" stroke="#222" stroke-width="0.25" >700</text>
<text x="462.24" y="600" font-size="6.1" font-weight="normal" font-style="normal" text-anchor="middle" fill="#222" stroke="#222" stroke-width="0.25" >800</text>
<text x="483.52" y="600" font-size="6.1" font-weight="normal" font-style="normal" text-anchor="middle" fill="#222" stroke="#222" stroke-width="0.25" >900</text>
<text x="504.8" y="600" font-size="6.1" font-weight="normal" font-style="normal" text-anchor="middle" fill="#222" stroke="#222" stroke-width="0.25" >1000</text>
<text x="380.9" y="430" font-size="8.5" font-weight="bold" font-style="normal" text-anchor="start" fill="#000" stroke="#000" stroke-width="0.25" >Iliac Crest</text>
<text x="294.9" y="449.6" font-size="13.6" font-weight="bold" font-style="normal" text-anchor="start" fill="#000" stroke="#000" stroke-width="0.25" >F</text>
<text x="315" y="614.3" font-size="7.5" font-weight="bold" font-style="normal" text-anchor="start" fill="#000" stroke="#000" stroke-width="0.25" >Hematopoetic CD34+ cell to blood vessel distance</text>
<text transform="translate(269.1,513.5) rotate(-90)" font-size="7.3" font-weight="bold" text-anchor="middle">Relative Frequency</text>
<line x1="297.32" y1="515.9" x2="297.32" y2="522.78" stroke="#555" stroke-width="0.8" />
<line x1="295.32" y1="515.9" x2="299.32" y2="515.9" stroke="#555" stroke-width="0.8" />
<rect x="295.42" y="522.78" width="3.8" height="69.02" fill="#e0e0e0" stroke="#777" stroke-width="1.2"/>
<line x1="307.96" y1="453.3" x2="307.96" y2="467.07" stroke="#555" stroke-width="0.8" />
<line x1="305.96" y1="453.3" x2="309.96" y2="453.3" stroke="#555" stroke-width="0.8" />
<rect x="306.06" y="467.07" width="3.8" height="124.73" fill="#e0e0e0" stroke="#777" stroke-width="1.2"/>
<line x1="318.6" y1="476.77" x2="318.6" y2="485.46" stroke="#555" stroke-width="0.8" />
<line x1="316.6" y1="476.77" x2="320.6" y2="476.77" stroke="#555" stroke-width="0.8" />
<rect x="316.7" y="485.46" width="3.8" height="106.34" fill="#e0e0e0" stroke="#777" stroke-width="1.2"/>
<line x1="329.24" y1="486.16" x2="329.24" y2="490.54" stroke="#555" stroke-width="0.8" />
<line x1="327.24" y1="486.16" x2="331.24" y2="486.16" stroke="#555" stroke-width="0.8" />
<rect x="327.34" y="490.54" width="3.8" height="101.26" fill="#e0e0e0" stroke="#777" stroke-width="1.2"/>
<line x1="339.88" y1="479.51" x2="339.88" y2="487.1" stroke="#555" stroke-width="0.8" />
<line x1="337.88" y1="479.51" x2="341.88" y2="479.51" stroke="#555" stroke-width="0.8" />
<rect x="337.98" y="487.1" width="3.8" height="104.7" fill="#e0e0e0" stroke="#777" stroke-width="1.2"/>
<line x1="350.52" y1="535.46" x2="350.52" y2="544.62" stroke="#555" stroke-width="0.8" />
<line x1="348.52" y1="535.46" x2="352.52" y2="535.46" stroke="#555" stroke-width="0.8" />
<rect x="348.62" y="544.62" width="3.8" height="47.18" fill="#e0e0e0" stroke="#777" stroke-width="1.2"/>
<line x1="361.16" y1="516.99" x2="361.16" y2="522.78" stroke="#555" stroke-width="0.8" />
<line x1="359.16" y1="516.99" x2="363.16" y2="516.99" stroke="#555" stroke-width="0.8" />
<rect x="359.26" y="522.78" width="3.8" height="69.02" fill="#e0e0e0" stroke="#777" stroke-width="1.2"/>
<line x1="371.8" y1="549.23" x2="371.8" y2="556.82" stroke="#555" stroke-width="0.8" />
<line x1="369.8" y1="549.23" x2="373.8" y2="549.23" stroke="#555" stroke-width="0.8" />
<rect x="369.9" y="556.82" width="3.8" height="34.98" fill="#e0e0e0" stroke="#777" stroke-width="1.2"/>
<line x1="382.44" y1="548.06" x2="382.44" y2="553.85" stroke="#555" stroke-width="0.8" />
<line x1="380.44" y1="548.06" x2="384.44" y2="548.06" stroke="#555" stroke-width="0.8" />
<rect x="380.54" y="553.85" width="3.8" height="37.95" fill="#e0e0e0" stroke="#777" stroke-width="1.2"/>
<line x1="393.08" y1="576.93" x2="393.08" y2="580.77" stroke="#555" stroke-width="0.8" />
<line x1="391.08" y1="576.93" x2="395.08" y2="576.93" stroke="#555" stroke-width="0.8" />
<rect x="391.18" y="580.77" width="3.8" height="11.03" fill="#e0e0e0" stroke="#777" stroke-width="1.2"/>
<line x1="403.72" y1="576.15" x2="403.72" y2="580.14" stroke="#555" stroke-width="0.8" />
<line x1="401.72" y1="576.15" x2="405.72" y2="576.15" stroke="#555" stroke-width="0.8" />
<rect x="401.82" y="580.14" width="3.8" height="11.66" fill="#e0e0e0" stroke="#777" stroke-width="1.2"/>
<line x1="414.36" y1="573.18" x2="414.36" y2="577.09" stroke="#555" stroke-width="0.8" />
<line x1="412.36" y1="573.18" x2="416.36" y2="573.18" stroke="#555" stroke-width="0.8" />
<rect x="412.46" y="577.09" width="3.8" height="14.71" fill="#e0e0e0" stroke="#777" stroke-width="1.2"/>
<line x1="425" y1="577.71" x2="425" y2="580.14" stroke="#555" stroke-width="0.8" />
<line x1="423" y1="577.71" x2="427" y2="577.71" stroke="#555" stroke-width="0.8" />
<rect x="423.1" y="580.14" width="3.8" height="11.66" fill="#e0e0e0" stroke="#777" stroke-width="1.2"/>
<line x1="435.64" y1="578.5" x2="435.64" y2="581.78" stroke="#555" stroke-width="0.8" />
<line x1="433.64" y1="578.5" x2="437.64" y2="578.5" stroke="#555" stroke-width="0.8" />
<rect x="433.74" y="581.78" width="3.8" height="10.02" fill="#e0e0e0" stroke="#777" stroke-width="1.2"/>
<line x1="446.28" y1="585.93" x2="446.28" y2="587.1" stroke="#555" stroke-width="0.8" />
<line x1="444.28" y1="585.93" x2="448.28" y2="585.93" stroke="#555" stroke-width="0.8" />
<rect x="444.38" y="587.1" width="3.8" height="4.7" fill="#e0e0e0" stroke="#777" stroke-width="1.2"/>
<line x1="456.92" y1="581.08" x2="456.92" y2="584.37" stroke="#555" stroke-width="0.8" />
<line x1="454.92" y1="581.08" x2="458.92" y2="581.08" stroke="#555" stroke-width="0.8" />
<rect x="455.02" y="584.37" width="3.8" height="7.43" fill="#e0e0e0" stroke="#777" stroke-width="1.2"/>
<line x1="478.2" y1="578.73" x2="478.2" y2="582.49" stroke="#555" stroke-width="0.8" />
<line x1="476.2" y1="578.73" x2="480.2" y2="578.73" stroke="#555" stroke-width="0.8" />
<rect x="476.3" y="582.49" width="3.8" height="9.31" fill="#e0e0e0" stroke="#777" stroke-width="1.2"/>
<line x1="488.84" y1="590.23" x2="488.84" y2="590.63" stroke="#555" stroke-width="0.8" />
<line x1="486.84" y1="590.23" x2="490.84" y2="590.23" stroke="#555" stroke-width="0.8" />
<rect x="486.94" y="590.63" width="3.8" height="1.17" fill="#e0e0e0" stroke="#777" stroke-width="1.2"/>
<line x1="499.48" y1="589.45" x2="499.48" y2="590.23" stroke="#555" stroke-width="0.8" />
<line x1="497.48" y1="589.45" x2="501.48" y2="589.45" stroke="#555" stroke-width="0.8" />
<rect x="497.58" y="590.23" width="3.8" height="1.57" fill="#e0e0e0" stroke="#777" stroke-width="1.2"/>
<polyline points="297.32,511.7 298.38,509.37 299.45,507.02 300.51,504.65 301.58,502.29 302.64,499.93 303.7,497.6 304.77,495.3 305.83,493.05 306.9,490.86 307.96,488.75 309.02,486.74 310.09,484.83 311.15,483.06 312.22,481.43 313.28,479.96 314.34,478.67 315.41,477.57 316.47,476.66 317.54,475.97 318.6,475.5 319.66,475.25 320.73,475.23 321.79,475.43 322.86,475.86 323.92,476.51 324.98,477.37 326.05,478.44 327.11,479.69 328.18,481.13 329.24,482.72 330.3,484.47 331.37,486.35 332.43,488.34 333.5,490.43 334.56,492.6 335.62,494.84 336.69,497.13 337.75,499.46 338.82,501.81 339.88,504.18 340.94,506.54 342.01,508.9 343.07,511.24 344.14,513.55 345.2,515.83 346.26,518.07 347.33,520.27 348.39,522.43 349.46,524.53 350.52,526.58 351.58,528.58 352.65,530.52 353.71,532.4 354.78,534.23 355.84,536 356.9,537.71 357.97,539.37 359.03,540.97 360.1,542.52 361.16,544.02 362.22,545.46 363.29,546.85 364.35,548.19 365.42,549.49 366.48,550.74 367.54,551.94 368.61,553.1 369.67,554.22 370.74,555.3 371.8,556.34 372.86,557.34 373.93,558.3 374.99,559.23 376.06,560.13 377.12,560.99 378.18,561.83 379.25,562.63 380.31,563.41 381.38,564.16 382.44,564.88 383.5,565.57 384.57,566.25 385.63,566.9 386.7,567.52 387.76,568.13 388.82,568.71 389.89,569.28 390.95,569.82 392.02,570.35 393.08,570.86 394.14,571.36 395.21,571.84 396.27,572.3 397.34,572.75 398.4,573.18 399.46,573.6 400.53,574 401.59,574.4 402.66,574.78 403.72,575.15 404.78,575.51 405.85,575.86 406.91,576.19 407.98,576.52 409.04,576.84 410.1,577.15 411.17,577.45 412.23,577.74 413.3,578.02 414.36,578.29 415.42,578.56 416.49,578.82 417.55,579.07 418.62,579.31 419.68,579.55 420.74,579.78 421.81,580.01 422.87,580.23 423.94,580.44 425,580.65 426.06,580.85 427.13,581.05 428.19,581.24 429.26,581.43 430.32,581.61 431.38,581.79 432.45,581.96 433.51,582.13 434.58,582.29 435.64,582.45 436.7,582.61 437.77,582.76 438.83,582.91 439.9,583.06 440.96,583.2 442.02,583.34 443.09,583.47 444.15,583.61 445.22,583.74 446.28,583.86 447.34,583.99 448.41,584.11 449.47,584.23 450.54,584.34 451.6,584.45 452.66,584.56 453.73,584.67 454.79,584.78 455.86,584.88 456.92,584.98 457.98,585.08 459.05,585.18 460.11,585.27 461.18,585.37 462.24,585.46 463.3,585.55 464.37,585.63 465.43,585.72 466.5,585.8 467.56,585.88 468.62,585.96 469.69,586.04 470.75,586.12 471.82,586.2 472.88,586.27 473.94,586.34 475.01,586.41 476.07,586.48 477.14,586.55 478.2,586.62 479.26,586.69 480.33,586.75 481.39,586.81 482.46,586.88 483.52,586.94 484.58,587 485.65,587.06 486.71,587.12 487.78,587.17 488.84,587.23 489.9,587.28 490.97,587.34 492.03,587.39 493.1,587.44 494.16,587.49 495.22,587.54 496.29,587.59 497.35,587.64 498.42,587.69 499.48,587.74 500.54,587.78 501.61,587.83 502.67,587.87 503.74,587.92 504.8,587.96" fill="none" stroke="#222" stroke-width="1.5" stroke-dasharray="6 2.6"/>
<rect x="394.8" y="441.7" width="114.4" height="23.7" fill="#fff" stroke="#6e6e6e" stroke-width="0.9"/>
<rect x="399.3" y="447.56" width="26.7" height="4.4" fill="#e0e0e0" stroke="#777" stroke-width="1.1"/>
<line x1="399.3" y1="458.29" x2="426" y2="458.29" stroke="#111" stroke-width="1.3" stroke-dasharray="6 4" />
<text x="432.9" y="451.56" font-size="6.15" font-weight="bold" font-style="italic" text-anchor="start" fill="#000" stroke="#000" stroke-width="0.25" >Relative Frequency- IC</text>
<text x="432.9" y="459.99" font-size="6.15" font-weight="bold" font-style="italic" text-anchor="start" fill="#000" stroke="#000" stroke-width="0.25" >Lorentzian Fit (R<tspan font-size="3.8" dy="-2.3">2</tspan><tspan dy="2.3">=0.939)</tspan></text>
</svg>
</body></html>
